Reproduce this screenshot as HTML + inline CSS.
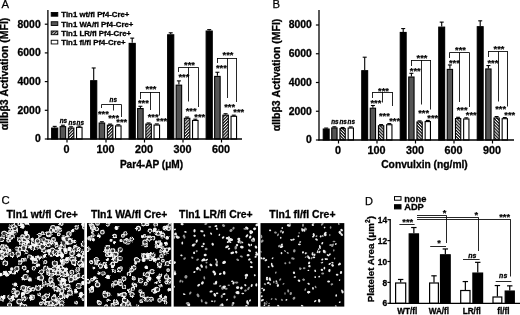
<!DOCTYPE html>
<html><head><meta charset="utf-8"><title>Figure</title><style>html,body{margin:0;padding:0;background:#fff}svg{display:block}</style></head><body>
<svg width="520" height="315" viewBox="0 0 520 315" font-family='"Liberation Sans", Arial, sans-serif'>
<defs>
<pattern id="hatch" width="2.2" height="2.2" patternUnits="userSpaceOnUse" patternTransform="rotate(-45)"><rect width="2.2" height="2.2" fill="#fff"/><rect width="2.2" height="1.25" fill="#111"/></pattern>
<pattern id="hatchB" width="2.2" height="2.2" patternUnits="userSpaceOnUse" patternTransform="rotate(45)"><rect width="2.2" height="2.2" fill="#fff"/><rect width="2.2" height="1.25" fill="#111"/></pattern>
<filter id="wob" x="-5%" y="-5%" width="110%" height="110%"><feTurbulence type="fractalNoise" baseFrequency="0.35" numOctaves="2" seed="3" result="n"/><feDisplacementMap in="SourceGraphic" in2="n" scale="2.6" xChannelSelector="R" yChannelSelector="G"/></filter>
<filter id="wob2" x="-5%" y="-5%" width="110%" height="110%"><feTurbulence type="fractalNoise" baseFrequency="0.4" numOctaves="2" seed="7" result="n"/><feDisplacementMap in="SourceGraphic" in2="n" scale="1.0" xChannelSelector="R" yChannelSelector="G"/></filter>
</defs>
<rect width="520" height="315" fill="#fff"/>
<text x="1.60" y="8.30" font-size="11.3" font-weight="normal" font-style="normal" text-anchor="start" stroke="#000" stroke-width="0.25">A</text>
<line x1="54.70" y1="127.52" x2="54.70" y2="126.37" stroke="#000" stroke-width="1.1"/>
<line x1="52.70" y1="126.37" x2="56.70" y2="126.37" stroke="#000" stroke-width="1.1"/>
<rect x="51.65" y="128.07" width="6.10" height="10.93" fill="#000" stroke="#000" stroke-width="1.1"/>
<line x1="62.90" y1="126.09" x2="62.90" y2="125.22" stroke="#000" stroke-width="1.1"/>
<line x1="60.90" y1="125.22" x2="64.90" y2="125.22" stroke="#000" stroke-width="1.1"/>
<rect x="60.15" y="126.64" width="5.50" height="12.36" fill="#555" stroke="#000" stroke-width="1.1"/>
<line x1="71.10" y1="127.52" x2="71.10" y2="126.80" stroke="#000" stroke-width="1.1"/>
<line x1="69.10" y1="126.80" x2="73.10" y2="126.80" stroke="#000" stroke-width="1.1"/>
<rect x="68.35" y="128.07" width="5.50" height="10.93" fill="url(#hatch)" stroke="#000" stroke-width="1.1"/>
<line x1="79.30" y1="126.80" x2="79.30" y2="126.09" stroke="#000" stroke-width="1.1"/>
<line x1="77.30" y1="126.09" x2="81.30" y2="126.09" stroke="#000" stroke-width="1.1"/>
<rect x="76.55" y="127.35" width="5.50" height="11.65" fill="#fff" stroke="#000" stroke-width="1.1"/>
<line x1="93.70" y1="80.16" x2="93.70" y2="67.97" stroke="#000" stroke-width="1.1"/>
<line x1="91.70" y1="67.97" x2="95.70" y2="67.97" stroke="#000" stroke-width="1.1"/>
<rect x="90.65" y="80.71" width="6.10" height="58.29" fill="#000" stroke="#000" stroke-width="1.1"/>
<line x1="101.90" y1="122.50" x2="101.90" y2="121.78" stroke="#000" stroke-width="1.1"/>
<line x1="99.90" y1="121.78" x2="103.90" y2="121.78" stroke="#000" stroke-width="1.1"/>
<rect x="99.15" y="123.05" width="5.50" height="15.95" fill="#555" stroke="#000" stroke-width="1.1"/>
<line x1="110.10" y1="124.65" x2="110.10" y2="124.08" stroke="#000" stroke-width="1.1"/>
<line x1="108.10" y1="124.08" x2="112.10" y2="124.08" stroke="#000" stroke-width="1.1"/>
<rect x="107.35" y="125.20" width="5.50" height="13.80" fill="url(#hatch)" stroke="#000" stroke-width="1.1"/>
<line x1="118.30" y1="125.37" x2="118.30" y2="124.79" stroke="#000" stroke-width="1.1"/>
<line x1="116.30" y1="124.79" x2="120.30" y2="124.79" stroke="#000" stroke-width="1.1"/>
<rect x="115.55" y="125.92" width="5.50" height="13.08" fill="#fff" stroke="#000" stroke-width="1.1"/>
<line x1="132.20" y1="42.86" x2="132.20" y2="38.12" stroke="#000" stroke-width="1.1"/>
<line x1="130.20" y1="38.12" x2="134.20" y2="38.12" stroke="#000" stroke-width="1.1"/>
<rect x="129.15" y="43.41" width="6.10" height="95.59" fill="#000" stroke="#000" stroke-width="1.1"/>
<line x1="140.40" y1="108.00" x2="140.40" y2="106.28" stroke="#000" stroke-width="1.1"/>
<line x1="138.40" y1="106.28" x2="142.40" y2="106.28" stroke="#000" stroke-width="1.1"/>
<rect x="137.65" y="108.55" width="5.50" height="30.45" fill="#555" stroke="#000" stroke-width="1.1"/>
<line x1="148.60" y1="123.50" x2="148.60" y2="122.93" stroke="#000" stroke-width="1.1"/>
<line x1="146.60" y1="122.93" x2="150.60" y2="122.93" stroke="#000" stroke-width="1.1"/>
<rect x="145.85" y="124.05" width="5.50" height="14.95" fill="url(#hatch)" stroke="#000" stroke-width="1.1"/>
<line x1="156.80" y1="124.51" x2="156.80" y2="123.93" stroke="#000" stroke-width="1.1"/>
<line x1="154.80" y1="123.93" x2="158.80" y2="123.93" stroke="#000" stroke-width="1.1"/>
<rect x="154.05" y="125.06" width="5.50" height="13.94" fill="#fff" stroke="#000" stroke-width="1.1"/>
<line x1="170.70" y1="34.25" x2="170.70" y2="32.81" stroke="#000" stroke-width="1.1"/>
<line x1="168.70" y1="32.81" x2="172.70" y2="32.81" stroke="#000" stroke-width="1.1"/>
<rect x="167.65" y="34.80" width="6.10" height="104.20" fill="#000" stroke="#000" stroke-width="1.1"/>
<line x1="178.90" y1="84.61" x2="178.90" y2="80.88" stroke="#000" stroke-width="1.1"/>
<line x1="176.90" y1="80.88" x2="180.90" y2="80.88" stroke="#000" stroke-width="1.1"/>
<rect x="176.15" y="85.16" width="5.50" height="53.84" fill="#555" stroke="#000" stroke-width="1.1"/>
<line x1="187.10" y1="117.76" x2="187.10" y2="117.04" stroke="#000" stroke-width="1.1"/>
<line x1="185.10" y1="117.04" x2="189.10" y2="117.04" stroke="#000" stroke-width="1.1"/>
<rect x="184.35" y="118.31" width="5.50" height="20.69" fill="url(#hatch)" stroke="#000" stroke-width="1.1"/>
<line x1="195.30" y1="119.91" x2="195.30" y2="119.20" stroke="#000" stroke-width="1.1"/>
<line x1="193.30" y1="119.20" x2="197.30" y2="119.20" stroke="#000" stroke-width="1.1"/>
<rect x="192.55" y="120.46" width="5.50" height="18.54" fill="#fff" stroke="#000" stroke-width="1.1"/>
<line x1="209.20" y1="30.51" x2="209.20" y2="29.65" stroke="#000" stroke-width="1.1"/>
<line x1="207.20" y1="29.65" x2="211.20" y2="29.65" stroke="#000" stroke-width="1.1"/>
<rect x="206.15" y="31.06" width="6.10" height="107.94" fill="#000" stroke="#000" stroke-width="1.1"/>
<line x1="217.40" y1="75.86" x2="217.40" y2="72.27" stroke="#000" stroke-width="1.1"/>
<line x1="215.40" y1="72.27" x2="219.40" y2="72.27" stroke="#000" stroke-width="1.1"/>
<rect x="214.65" y="76.41" width="5.50" height="62.59" fill="#555" stroke="#000" stroke-width="1.1"/>
<line x1="225.60" y1="114.61" x2="225.60" y2="113.74" stroke="#000" stroke-width="1.1"/>
<line x1="223.60" y1="113.74" x2="227.60" y2="113.74" stroke="#000" stroke-width="1.1"/>
<rect x="222.85" y="115.16" width="5.50" height="23.84" fill="url(#hatch)" stroke="#000" stroke-width="1.1"/>
<line x1="233.80" y1="115.75" x2="233.80" y2="115.18" stroke="#000" stroke-width="1.1"/>
<line x1="231.80" y1="115.18" x2="235.80" y2="115.18" stroke="#000" stroke-width="1.1"/>
<rect x="231.05" y="116.30" width="5.50" height="22.70" fill="#fff" stroke="#000" stroke-width="1.1"/>
<line x1="47.90" y1="10.00" x2="47.90" y2="139.60" stroke="#000" stroke-width="1.3"/>
<line x1="47.30" y1="139.00" x2="242.00" y2="139.00" stroke="#000" stroke-width="1.3"/>
<line x1="44.80" y1="139.00" x2="47.90" y2="139.00" stroke="#000" stroke-width="1.2"/>
<text x="40.70" y="142.40" font-size="10.4" font-weight="bold" font-style="normal" text-anchor="end"  stroke="#000" stroke-width="0.30">0</text>
<line x1="44.80" y1="110.30" x2="47.90" y2="110.30" stroke="#000" stroke-width="1.2"/>
<text x="40.70" y="113.70" font-size="10.4" font-weight="bold" font-style="normal" text-anchor="end"  stroke="#000" stroke-width="0.30">2000</text>
<line x1="44.80" y1="81.60" x2="47.90" y2="81.60" stroke="#000" stroke-width="1.2"/>
<text x="40.70" y="85.00" font-size="10.4" font-weight="bold" font-style="normal" text-anchor="end"  stroke="#000" stroke-width="0.30">4000</text>
<line x1="44.80" y1="52.90" x2="47.90" y2="52.90" stroke="#000" stroke-width="1.2"/>
<text x="40.70" y="56.30" font-size="10.4" font-weight="bold" font-style="normal" text-anchor="end"  stroke="#000" stroke-width="0.30">6000</text>
<line x1="44.80" y1="24.20" x2="47.90" y2="24.20" stroke="#000" stroke-width="1.2"/>
<text x="40.70" y="27.60" font-size="10.4" font-weight="bold" font-style="normal" text-anchor="end"  stroke="#000" stroke-width="0.30">8000</text>
<line x1="67.00" y1="139.00" x2="67.00" y2="142.50" stroke="#000" stroke-width="1.2"/>
<text x="66.60" y="153.00" font-size="10.8" font-weight="bold" font-style="normal" text-anchor="middle"  stroke="#000" stroke-width="0.30">0</text>
<line x1="106.00" y1="139.00" x2="106.00" y2="142.50" stroke="#000" stroke-width="1.2"/>
<text x="105.60" y="153.00" font-size="10.8" font-weight="bold" font-style="normal" text-anchor="middle"  stroke="#000" stroke-width="0.30">100</text>
<line x1="144.50" y1="139.00" x2="144.50" y2="142.50" stroke="#000" stroke-width="1.2"/>
<text x="144.10" y="153.00" font-size="10.8" font-weight="bold" font-style="normal" text-anchor="middle"  stroke="#000" stroke-width="0.30">200</text>
<line x1="183.00" y1="139.00" x2="183.00" y2="142.50" stroke="#000" stroke-width="1.2"/>
<text x="182.60" y="153.00" font-size="10.8" font-weight="bold" font-style="normal" text-anchor="middle"  stroke="#000" stroke-width="0.30">300</text>
<line x1="221.50" y1="139.00" x2="221.50" y2="142.50" stroke="#000" stroke-width="1.2"/>
<text x="221.10" y="153.00" font-size="10.8" font-weight="bold" font-style="normal" text-anchor="middle"  stroke="#000" stroke-width="0.30">600</text>
<text x="151.50" y="167.60" font-size="10.1" font-weight="bold" font-style="normal" text-anchor="middle"  stroke="#000" stroke-width="0.30">Par4-AP (μM)</text>
<text transform="translate(8.2,74) rotate(-90)" font-size="10.5" font-weight="bold" stroke="#000" stroke-width="0.3" text-anchor="middle">αIIbβ3 Activation (MFI)</text>
<rect x="51.20" y="12.50" width="6.60" height="3.70" fill="#000" stroke="#000" stroke-width="0.9"/>
<text x="61.20" y="17.30" font-size="7.8" font-weight="bold" font-style="normal" text-anchor="start"  stroke="#000" stroke-width="0.30">Tln1 wt/fl Pf4-Cre+</text>
<rect x="51.20" y="21.75" width="6.60" height="3.70" fill="#555" stroke="#000" stroke-width="0.9"/>
<text x="61.20" y="26.55" font-size="7.8" font-weight="bold" font-style="normal" text-anchor="start"  stroke="#000" stroke-width="0.30">Tln1 WA/fl Pf4-Cre+</text>
<rect x="51.20" y="31.00" width="6.60" height="3.70" fill="url(#hatch)" stroke="#000" stroke-width="0.9"/>
<text x="61.20" y="35.80" font-size="7.8" font-weight="bold" font-style="normal" text-anchor="start"  stroke="#000" stroke-width="0.30">Tln1 LR/fl Pf4-Cre+</text>
<rect x="51.20" y="40.25" width="6.60" height="3.70" fill="#fff" stroke="#000" stroke-width="0.9"/>
<text x="61.20" y="45.05" font-size="7.8" font-weight="bold" font-style="normal" text-anchor="start"  stroke="#000" stroke-width="0.30">Tln1 fl/fl Pf4-Cre+</text>
<text x="63.40" y="122.50" font-size="6.3" font-weight="bold" font-style="italic" text-anchor="middle"  stroke="#000" stroke-width="0.30">ns</text>
<text x="72.30" y="125.00" font-size="6.3" font-weight="bold" font-style="italic" text-anchor="middle"  stroke="#000" stroke-width="0.30">ns</text>
<text x="80.30" y="125.00" font-size="6.3" font-weight="bold" font-style="italic" text-anchor="middle"  stroke="#000" stroke-width="0.30">ns</text>
<line x1="101.50" y1="104.50" x2="121.40" y2="104.50" stroke="#000" stroke-width="0.85"/>
<line x1="101.50" y1="104.50" x2="101.50" y2="108.00" stroke="#000" stroke-width="0.85"/>
<line x1="113.50" y1="104.50" x2="113.50" y2="110.50" stroke="#000" stroke-width="0.85"/>
<line x1="121.50" y1="104.50" x2="121.50" y2="117.00" stroke="#000" stroke-width="0.85"/>
<text x="113.25" y="101.90" font-size="6.3" font-weight="bold" font-style="italic" text-anchor="middle"  stroke="#000" stroke-width="0.30">ns</text>
<text x="103.40" y="116.61" font-size="9.3" font-weight="bold" font-style="normal" text-anchor="middle" stroke="#000" stroke-width="0.2">***</text>
<text x="113.60" y="121.31" font-size="9.3" font-weight="bold" font-style="normal" text-anchor="middle" stroke="#000" stroke-width="0.2">***</text>
<text x="121.80" y="125.31" font-size="9.3" font-weight="bold" font-style="normal" text-anchor="middle" stroke="#000" stroke-width="0.2">***</text>
<line x1="140.00" y1="92.50" x2="159.90" y2="92.50" stroke="#000" stroke-width="0.85"/>
<line x1="140.50" y1="92.00" x2="140.50" y2="99.00" stroke="#000" stroke-width="0.85"/>
<line x1="150.50" y1="92.00" x2="150.50" y2="110.00" stroke="#000" stroke-width="0.85"/>
<line x1="159.50" y1="92.00" x2="159.50" y2="115.50" stroke="#000" stroke-width="0.85"/>
<text x="150.95" y="92.31" font-size="9.3" font-weight="bold" font-style="normal" text-anchor="middle" stroke="#000" stroke-width="0.2">***</text>
<text x="143.40" y="106.41" font-size="9.3" font-weight="bold" font-style="normal" text-anchor="middle" stroke="#000" stroke-width="0.2">***</text>
<text x="153.10" y="119.61" font-size="9.3" font-weight="bold" font-style="normal" text-anchor="middle" stroke="#000" stroke-width="0.2">***</text>
<text x="161.80" y="123.91" font-size="9.3" font-weight="bold" font-style="normal" text-anchor="middle" stroke="#000" stroke-width="0.2">***</text>
<line x1="178.50" y1="67.50" x2="198.40" y2="67.50" stroke="#000" stroke-width="0.85"/>
<line x1="178.50" y1="67.30" x2="178.50" y2="72.00" stroke="#000" stroke-width="0.85"/>
<line x1="188.50" y1="67.30" x2="188.50" y2="101.50" stroke="#000" stroke-width="0.85"/>
<line x1="198.50" y1="67.30" x2="198.50" y2="107.00" stroke="#000" stroke-width="0.85"/>
<text x="189.45" y="67.81" font-size="9.3" font-weight="bold" font-style="normal" text-anchor="middle" stroke="#000" stroke-width="0.2">***</text>
<text x="183.90" y="79.71" font-size="9.3" font-weight="bold" font-style="normal" text-anchor="middle" stroke="#000" stroke-width="0.2">***</text>
<text x="191.10" y="114.11" font-size="9.3" font-weight="bold" font-style="normal" text-anchor="middle" stroke="#000" stroke-width="0.2">***</text>
<text x="199.80" y="119.61" font-size="9.3" font-weight="bold" font-style="normal" text-anchor="middle" stroke="#000" stroke-width="0.2">***</text>
<line x1="217.00" y1="58.50" x2="236.90" y2="58.50" stroke="#000" stroke-width="0.85"/>
<line x1="217.50" y1="58.00" x2="217.50" y2="63.00" stroke="#000" stroke-width="0.85"/>
<line x1="227.50" y1="58.00" x2="227.50" y2="98.00" stroke="#000" stroke-width="0.85"/>
<line x1="236.50" y1="58.00" x2="236.50" y2="102.00" stroke="#000" stroke-width="0.85"/>
<text x="227.95" y="58.12" font-size="9.3" font-weight="bold" font-style="normal" text-anchor="middle" stroke="#000" stroke-width="0.2">***</text>
<text x="221.40" y="70.61" font-size="9.3" font-weight="bold" font-style="normal" text-anchor="middle" stroke="#000" stroke-width="0.2">***</text>
<text x="229.60" y="109.61" font-size="9.3" font-weight="bold" font-style="normal" text-anchor="middle" stroke="#000" stroke-width="0.2">***</text>
<text x="238.80" y="115.11" font-size="9.3" font-weight="bold" font-style="normal" text-anchor="middle" stroke="#000" stroke-width="0.2">***</text>
<text x="272.60" y="8.30" font-size="11.3" font-weight="normal" font-style="normal" text-anchor="start" stroke="#000" stroke-width="0.25">B</text>
<line x1="326.20" y1="128.50" x2="326.20" y2="128.07" stroke="#000" stroke-width="1.1"/>
<line x1="324.20" y1="128.07" x2="328.20" y2="128.07" stroke="#000" stroke-width="1.1"/>
<rect x="323.25" y="129.05" width="5.90" height="10.95" fill="#000" stroke="#000" stroke-width="1.1"/>
<line x1="334.40" y1="127.35" x2="334.40" y2="126.78" stroke="#000" stroke-width="1.1"/>
<line x1="332.40" y1="126.78" x2="336.40" y2="126.78" stroke="#000" stroke-width="1.1"/>
<rect x="331.75" y="127.90" width="5.30" height="12.10" fill="#555" stroke="#000" stroke-width="1.1"/>
<line x1="342.60" y1="128.07" x2="342.60" y2="127.49" stroke="#000" stroke-width="1.1"/>
<line x1="340.60" y1="127.49" x2="344.60" y2="127.49" stroke="#000" stroke-width="1.1"/>
<rect x="339.95" y="128.62" width="5.30" height="11.38" fill="url(#hatchB)" stroke="#000" stroke-width="1.1"/>
<line x1="350.80" y1="127.49" x2="350.80" y2="126.92" stroke="#000" stroke-width="1.1"/>
<line x1="348.80" y1="126.92" x2="352.80" y2="126.92" stroke="#000" stroke-width="1.1"/>
<rect x="348.15" y="128.04" width="5.30" height="11.96" fill="#fff" stroke="#000" stroke-width="1.1"/>
<line x1="364.70" y1="70.14" x2="364.70" y2="57.20" stroke="#000" stroke-width="1.1"/>
<line x1="362.70" y1="57.20" x2="366.70" y2="57.20" stroke="#000" stroke-width="1.1"/>
<rect x="361.75" y="70.69" width="5.90" height="69.31" fill="#000" stroke="#000" stroke-width="1.1"/>
<line x1="372.90" y1="107.66" x2="372.90" y2="105.50" stroke="#000" stroke-width="1.1"/>
<line x1="370.90" y1="105.50" x2="374.90" y2="105.50" stroke="#000" stroke-width="1.1"/>
<rect x="370.25" y="108.21" width="5.30" height="31.79" fill="#555" stroke="#000" stroke-width="1.1"/>
<line x1="381.10" y1="125.19" x2="381.10" y2="124.62" stroke="#000" stroke-width="1.1"/>
<line x1="379.10" y1="124.62" x2="383.10" y2="124.62" stroke="#000" stroke-width="1.1"/>
<rect x="378.45" y="125.74" width="5.30" height="14.26" fill="url(#hatchB)" stroke="#000" stroke-width="1.1"/>
<line x1="389.30" y1="124.19" x2="389.30" y2="123.61" stroke="#000" stroke-width="1.1"/>
<line x1="387.30" y1="123.61" x2="391.30" y2="123.61" stroke="#000" stroke-width="1.1"/>
<rect x="386.65" y="124.74" width="5.30" height="15.26" fill="#fff" stroke="#000" stroke-width="1.1"/>
<line x1="403.20" y1="31.90" x2="403.20" y2="28.59" stroke="#000" stroke-width="1.1"/>
<line x1="401.20" y1="28.59" x2="405.20" y2="28.59" stroke="#000" stroke-width="1.1"/>
<rect x="400.25" y="32.45" width="5.90" height="107.55" fill="#000" stroke="#000" stroke-width="1.1"/>
<line x1="411.40" y1="76.46" x2="411.40" y2="73.30" stroke="#000" stroke-width="1.1"/>
<line x1="409.40" y1="73.30" x2="413.40" y2="73.30" stroke="#000" stroke-width="1.1"/>
<rect x="408.75" y="77.01" width="5.30" height="62.99" fill="#555" stroke="#000" stroke-width="1.1"/>
<line x1="419.60" y1="121.46" x2="419.60" y2="120.88" stroke="#000" stroke-width="1.1"/>
<line x1="417.60" y1="120.88" x2="421.60" y2="120.88" stroke="#000" stroke-width="1.1"/>
<rect x="416.95" y="122.01" width="5.30" height="17.99" fill="url(#hatchB)" stroke="#000" stroke-width="1.1"/>
<line x1="427.80" y1="121.03" x2="427.80" y2="120.45" stroke="#000" stroke-width="1.1"/>
<line x1="425.80" y1="120.45" x2="429.80" y2="120.45" stroke="#000" stroke-width="1.1"/>
<rect x="425.15" y="121.58" width="5.30" height="18.42" fill="#fff" stroke="#000" stroke-width="1.1"/>
<line x1="441.70" y1="26.58" x2="441.70" y2="22.12" stroke="#000" stroke-width="1.1"/>
<line x1="439.70" y1="22.12" x2="443.70" y2="22.12" stroke="#000" stroke-width="1.1"/>
<rect x="438.75" y="27.13" width="5.90" height="112.87" fill="#000" stroke="#000" stroke-width="1.1"/>
<line x1="449.90" y1="68.84" x2="449.90" y2="64.96" stroke="#000" stroke-width="1.1"/>
<line x1="447.90" y1="64.96" x2="451.90" y2="64.96" stroke="#000" stroke-width="1.1"/>
<rect x="447.25" y="69.39" width="5.30" height="70.61" fill="#555" stroke="#000" stroke-width="1.1"/>
<line x1="458.10" y1="118.01" x2="458.10" y2="117.29" stroke="#000" stroke-width="1.1"/>
<line x1="456.10" y1="117.29" x2="460.10" y2="117.29" stroke="#000" stroke-width="1.1"/>
<rect x="455.45" y="118.56" width="5.30" height="21.44" fill="url(#hatchB)" stroke="#000" stroke-width="1.1"/>
<line x1="466.30" y1="118.44" x2="466.30" y2="117.86" stroke="#000" stroke-width="1.1"/>
<line x1="464.30" y1="117.86" x2="468.30" y2="117.86" stroke="#000" stroke-width="1.1"/>
<rect x="463.65" y="118.99" width="5.30" height="21.01" fill="#fff" stroke="#000" stroke-width="1.1"/>
<line x1="480.20" y1="26.15" x2="480.20" y2="20.83" stroke="#000" stroke-width="1.1"/>
<line x1="478.20" y1="20.83" x2="482.20" y2="20.83" stroke="#000" stroke-width="1.1"/>
<rect x="477.25" y="26.70" width="5.90" height="113.30" fill="#000" stroke="#000" stroke-width="1.1"/>
<line x1="488.40" y1="68.41" x2="488.40" y2="65.54" stroke="#000" stroke-width="1.1"/>
<line x1="486.40" y1="65.54" x2="490.40" y2="65.54" stroke="#000" stroke-width="1.1"/>
<rect x="485.75" y="68.96" width="5.30" height="71.04" fill="#555" stroke="#000" stroke-width="1.1"/>
<line x1="496.60" y1="117.43" x2="496.60" y2="116.57" stroke="#000" stroke-width="1.1"/>
<line x1="494.60" y1="116.57" x2="498.60" y2="116.57" stroke="#000" stroke-width="1.1"/>
<rect x="493.95" y="117.98" width="5.30" height="22.02" fill="url(#hatchB)" stroke="#000" stroke-width="1.1"/>
<line x1="504.80" y1="118.15" x2="504.80" y2="117.58" stroke="#000" stroke-width="1.1"/>
<line x1="502.80" y1="117.58" x2="506.80" y2="117.58" stroke="#000" stroke-width="1.1"/>
<rect x="502.15" y="118.70" width="5.30" height="21.30" fill="#fff" stroke="#000" stroke-width="1.1"/>
<line x1="319.00" y1="10.00" x2="319.00" y2="140.60" stroke="#000" stroke-width="1.3"/>
<line x1="318.40" y1="140.00" x2="514.00" y2="140.00" stroke="#000" stroke-width="1.3"/>
<line x1="315.90" y1="140.00" x2="319.00" y2="140.00" stroke="#000" stroke-width="1.2"/>
<text x="311.80" y="143.40" font-size="10.4" font-weight="bold" font-style="normal" text-anchor="end"  stroke="#000" stroke-width="0.30">0</text>
<line x1="315.90" y1="111.25" x2="319.00" y2="111.25" stroke="#000" stroke-width="1.2"/>
<text x="311.80" y="114.65" font-size="10.4" font-weight="bold" font-style="normal" text-anchor="end"  stroke="#000" stroke-width="0.30">2000</text>
<line x1="315.90" y1="82.50" x2="319.00" y2="82.50" stroke="#000" stroke-width="1.2"/>
<text x="311.80" y="85.90" font-size="10.4" font-weight="bold" font-style="normal" text-anchor="end"  stroke="#000" stroke-width="0.30">4000</text>
<line x1="315.90" y1="53.75" x2="319.00" y2="53.75" stroke="#000" stroke-width="1.2"/>
<text x="311.80" y="57.15" font-size="10.4" font-weight="bold" font-style="normal" text-anchor="end"  stroke="#000" stroke-width="0.30">6000</text>
<line x1="315.90" y1="25.00" x2="319.00" y2="25.00" stroke="#000" stroke-width="1.2"/>
<text x="311.80" y="28.40" font-size="10.4" font-weight="bold" font-style="normal" text-anchor="end"  stroke="#000" stroke-width="0.30">8000</text>
<line x1="338.50" y1="140.00" x2="338.50" y2="143.50" stroke="#000" stroke-width="1.2"/>
<text x="338.10" y="154.00" font-size="10.8" font-weight="bold" font-style="normal" text-anchor="middle"  stroke="#000" stroke-width="0.30">0</text>
<line x1="377.00" y1="140.00" x2="377.00" y2="143.50" stroke="#000" stroke-width="1.2"/>
<text x="376.60" y="154.00" font-size="10.8" font-weight="bold" font-style="normal" text-anchor="middle"  stroke="#000" stroke-width="0.30">100</text>
<line x1="415.50" y1="140.00" x2="415.50" y2="143.50" stroke="#000" stroke-width="1.2"/>
<text x="415.10" y="154.00" font-size="10.8" font-weight="bold" font-style="normal" text-anchor="middle"  stroke="#000" stroke-width="0.30">300</text>
<line x1="454.00" y1="140.00" x2="454.00" y2="143.50" stroke="#000" stroke-width="1.2"/>
<text x="453.60" y="154.00" font-size="10.8" font-weight="bold" font-style="normal" text-anchor="middle"  stroke="#000" stroke-width="0.30">600</text>
<line x1="492.50" y1="140.00" x2="492.50" y2="143.50" stroke="#000" stroke-width="1.2"/>
<text x="492.10" y="154.00" font-size="10.8" font-weight="bold" font-style="normal" text-anchor="middle"  stroke="#000" stroke-width="0.30">900</text>
<text x="424.50" y="167.60" font-size="10.25" font-weight="bold" font-style="normal" text-anchor="middle"  stroke="#000" stroke-width="0.30">Convulxin (ng/ml)</text>
<text transform="translate(280.3,75) rotate(-90)" font-size="10.5" font-weight="bold" stroke="#000" stroke-width="0.3" text-anchor="middle">αIIbβ3 Activation (MFI)</text>
<text x="334.90" y="124.40" font-size="6.3" font-weight="bold" font-style="italic" text-anchor="middle"  stroke="#000" stroke-width="0.30">ns</text>
<text x="343.10" y="124.40" font-size="6.3" font-weight="bold" font-style="italic" text-anchor="middle"  stroke="#000" stroke-width="0.30">ns</text>
<text x="351.30" y="124.40" font-size="6.3" font-weight="bold" font-style="italic" text-anchor="middle"  stroke="#000" stroke-width="0.30">ns</text>
<line x1="372.50" y1="92.50" x2="392.40" y2="92.50" stroke="#000" stroke-width="0.85"/>
<line x1="372.50" y1="92.00" x2="372.50" y2="98.00" stroke="#000" stroke-width="0.85"/>
<line x1="382.50" y1="92.00" x2="382.50" y2="102.50" stroke="#000" stroke-width="0.85"/>
<line x1="392.50" y1="92.00" x2="392.50" y2="106.00" stroke="#000" stroke-width="0.85"/>
<text x="383.45" y="93.61" font-size="9.3" font-weight="bold" font-style="normal" text-anchor="middle" stroke="#000" stroke-width="0.2">***</text>
<text x="375.90" y="106.11" font-size="9.3" font-weight="bold" font-style="normal" text-anchor="middle" stroke="#000" stroke-width="0.2">***</text>
<text x="384.40" y="119.11" font-size="9.3" font-weight="bold" font-style="normal" text-anchor="middle" stroke="#000" stroke-width="0.2">***</text>
<text x="394.60" y="123.61" font-size="9.3" font-weight="bold" font-style="normal" text-anchor="middle" stroke="#000" stroke-width="0.2">***</text>
<line x1="411.00" y1="60.50" x2="430.90" y2="60.50" stroke="#000" stroke-width="0.85"/>
<line x1="411.50" y1="60.00" x2="411.50" y2="66.00" stroke="#000" stroke-width="0.85"/>
<line x1="421.50" y1="60.00" x2="421.50" y2="104.50" stroke="#000" stroke-width="0.85"/>
<line x1="430.50" y1="60.00" x2="430.50" y2="109.50" stroke="#000" stroke-width="0.85"/>
<text x="421.95" y="60.62" font-size="9.3" font-weight="bold" font-style="normal" text-anchor="middle" stroke="#000" stroke-width="0.2">***</text>
<text x="415.20" y="73.91" font-size="9.3" font-weight="bold" font-style="normal" text-anchor="middle" stroke="#000" stroke-width="0.2">***</text>
<text x="423.60" y="115.61" font-size="9.3" font-weight="bold" font-style="normal" text-anchor="middle" stroke="#000" stroke-width="0.2">***</text>
<text x="432.80" y="120.61" font-size="9.3" font-weight="bold" font-style="normal" text-anchor="middle" stroke="#000" stroke-width="0.2">***</text>
<line x1="449.50" y1="52.50" x2="469.40" y2="52.50" stroke="#000" stroke-width="0.85"/>
<line x1="449.50" y1="52.50" x2="449.50" y2="58.00" stroke="#000" stroke-width="0.85"/>
<line x1="459.50" y1="52.50" x2="459.50" y2="102.00" stroke="#000" stroke-width="0.85"/>
<line x1="469.50" y1="52.50" x2="469.50" y2="107.00" stroke="#000" stroke-width="0.85"/>
<text x="460.45" y="53.12" font-size="9.3" font-weight="bold" font-style="normal" text-anchor="middle" stroke="#000" stroke-width="0.2">***</text>
<text x="454.40" y="65.61" font-size="9.3" font-weight="bold" font-style="normal" text-anchor="middle" stroke="#000" stroke-width="0.2">***</text>
<text x="462.10" y="112.61" font-size="9.3" font-weight="bold" font-style="normal" text-anchor="middle" stroke="#000" stroke-width="0.2">***</text>
<text x="471.30" y="118.11" font-size="9.3" font-weight="bold" font-style="normal" text-anchor="middle" stroke="#000" stroke-width="0.2">***</text>
<line x1="488.00" y1="51.50" x2="507.90" y2="51.50" stroke="#000" stroke-width="0.85"/>
<line x1="488.50" y1="51.50" x2="488.50" y2="57.00" stroke="#000" stroke-width="0.85"/>
<line x1="498.50" y1="51.50" x2="498.50" y2="101.50" stroke="#000" stroke-width="0.85"/>
<line x1="507.50" y1="51.50" x2="507.50" y2="106.50" stroke="#000" stroke-width="0.85"/>
<text x="498.95" y="52.12" font-size="9.3" font-weight="bold" font-style="normal" text-anchor="middle" stroke="#000" stroke-width="0.2">***</text>
<text x="492.90" y="65.61" font-size="9.3" font-weight="bold" font-style="normal" text-anchor="middle" stroke="#000" stroke-width="0.2">***</text>
<text x="500.60" y="112.11" font-size="9.3" font-weight="bold" font-style="normal" text-anchor="middle" stroke="#000" stroke-width="0.2">***</text>
<text x="509.80" y="117.61" font-size="9.3" font-weight="bold" font-style="normal" text-anchor="middle" stroke="#000" stroke-width="0.2">***</text>
<text x="1.60" y="204.20" font-size="11.3" font-weight="normal" font-style="normal" text-anchor="start" stroke="#000" stroke-width="0.25">C</text>
<text x="42.15" y="217.80" font-size="10.4" font-weight="bold" font-style="normal" text-anchor="middle"  stroke="#000" stroke-width="0.30">Tln1 wt/fl Cre+</text>
<clipPath id="cp0"><rect x="0" y="223.1" width="84.3" height="83.50000000000003"/></clipPath>
<rect x="0" y="223.1" width="84.3" height="83.50000000000003" fill="#000"/>
<g clip-path="url(#cp0)"><g filter="url(#wob)" fill="#333" stroke="#f4f4f4" stroke-width="1.12">
<circle cx="52.8" cy="303.5" r="2.45"/>
<circle cx="76.0" cy="291.4" r="1.45" fill="#fff"/>
<circle cx="53.8" cy="298.4" r="1.96"/>
<circle cx="42.7" cy="247.3" r="1.93"/>
<circle cx="72.0" cy="253.4" r="2.21"/>
<circle cx="75.1" cy="277.5" r="2.32"/>
<circle cx="41.6" cy="271.8" r="2.11"/>
<circle cx="10.2" cy="227.3" r="1.56"/>
<circle cx="47.9" cy="251.0" r="1.01" fill="#fff"/>
<circle cx="44.3" cy="283.2" r="1.77"/>
<circle cx="55.6" cy="262.9" r="1.50" fill="#fff"/>
<circle cx="67.3" cy="296.0" r="1.08" fill="#fff"/>
<circle cx="33.9" cy="268.2" r="1.71"/>
<circle cx="16.4" cy="271.5" r="1.03" fill="#fff"/>
<circle cx="82.7" cy="256.6" r="1.51" fill="#fff"/>
<circle cx="84.1" cy="255.7" r="1.63"/>
<circle cx="19.6" cy="223.9" r="1.66"/>
<circle cx="29.7" cy="279.4" r="1.52" fill="#fff"/>
<circle cx="29.7" cy="290.0" r="1.66" fill="#fff"/>
<circle cx="62.0" cy="281.8" r="1.51"/>
<circle cx="37.7" cy="240.9" r="2.31"/>
<circle cx="48.8" cy="241.7" r="1.85"/>
<circle cx="72.6" cy="230.4" r="1.28" fill="#fff"/>
<circle cx="13.0" cy="232.0" r="1.44" fill="#fff"/>
<circle cx="47.8" cy="303.8" r="2.21"/>
<circle cx="32.0" cy="297.3" r="2.30"/>
<circle cx="65.7" cy="252.2" r="1.32"/>
<circle cx="71.9" cy="272.2" r="1.93"/>
<circle cx="64.7" cy="280.6" r="1.40" fill="#fff"/>
<circle cx="83.2" cy="224.0" r="1.65" fill="#fff"/>
<circle cx="58.7" cy="301.1" r="1.41"/>
<circle cx="60.1" cy="229.9" r="1.54"/>
<circle cx="1.3" cy="299.0" r="2.19"/>
<circle cx="32.2" cy="239.3" r="1.13" fill="#fff"/>
<circle cx="21.9" cy="225.4" r="1.63" fill="#fff"/>
<circle cx="55.8" cy="230.9" r="1.50"/>
<circle cx="60.8" cy="247.2" r="1.69"/>
<circle cx="52.1" cy="243.7" r="0.99" fill="#fff"/>
<circle cx="70.0" cy="292.8" r="2.44"/>
<circle cx="58.3" cy="272.8" r="2.13"/>
<circle cx="52.9" cy="303.7" r="1.63"/>
<circle cx="46.6" cy="296.0" r="2.12"/>
<circle cx="15.4" cy="230.7" r="2.08"/>
<circle cx="83.3" cy="265.4" r="1.72" fill="#fff"/>
<circle cx="63.0" cy="280.0" r="1.72" fill="#fff"/>
<circle cx="24.2" cy="239.6" r="2.06"/>
<circle cx="73.7" cy="262.6" r="2.07"/>
<circle cx="2.1" cy="256.6" r="2.07"/>
<circle cx="61.8" cy="303.0" r="2.30"/>
<circle cx="20.3" cy="262.6" r="1.67"/>
<circle cx="1.7" cy="258.8" r="0.93" fill="#fff"/>
<circle cx="56.5" cy="245.4" r="1.50"/>
<circle cx="78.8" cy="285.9" r="2.45"/>
<circle cx="32.6" cy="247.4" r="2.06"/>
<circle cx="59.8" cy="279.3" r="1.83"/>
<circle cx="41.7" cy="286.6" r="1.31"/>
<circle cx="44.0" cy="256.4" r="1.05" fill="#fff"/>
<circle cx="62.9" cy="271.1" r="2.42"/>
<circle cx="54.4" cy="301.1" r="1.49"/>
<circle cx="37.3" cy="265.5" r="1.11" fill="#fff"/>
<circle cx="39.7" cy="234.9" r="1.51"/>
<circle cx="24.0" cy="298.8" r="1.97"/>
<circle cx="52.5" cy="269.9" r="1.64"/>
<circle cx="61.4" cy="305.9" r="1.63"/>
<circle cx="10.5" cy="233.0" r="1.08" fill="#fff"/>
<circle cx="60.0" cy="269.1" r="2.07"/>
<circle cx="48.1" cy="285.0" r="1.34"/>
<circle cx="61.0" cy="294.6" r="1.42" fill="#fff"/>
<circle cx="63.3" cy="238.3" r="1.55" fill="#fff"/>
<circle cx="21.2" cy="242.5" r="1.78"/>
<circle cx="8.6" cy="238.6" r="1.30"/>
<circle cx="13.6" cy="298.8" r="1.17" fill="#fff"/>
<circle cx="53.1" cy="228.0" r="2.50"/>
<circle cx="62.8" cy="296.3" r="2.37"/>
<circle cx="49.1" cy="250.7" r="1.20" fill="#fff"/>
<circle cx="62.3" cy="269.7" r="2.34"/>
<circle cx="39.2" cy="294.3" r="1.34"/>
<circle cx="60.3" cy="267.3" r="2.23"/>
<circle cx="13.9" cy="289.9" r="1.50"/>
<circle cx="31.0" cy="297.3" r="1.32" fill="#fff"/>
<circle cx="62.0" cy="260.7" r="1.72" fill="#fff"/>
<circle cx="37.4" cy="258.6" r="2.11"/>
<circle cx="5.6" cy="254.1" r="2.46"/>
<circle cx="43.9" cy="250.6" r="2.03"/>
<circle cx="23.4" cy="278.4" r="1.44" fill="#fff"/>
<circle cx="48.2" cy="245.0" r="1.74"/>
<circle cx="83.7" cy="243.8" r="2.37"/>
<circle cx="54.5" cy="295.5" r="1.06" fill="#fff"/>
<circle cx="14.9" cy="228.3" r="2.40"/>
<circle cx="52.9" cy="240.4" r="1.50"/>
<circle cx="67.8" cy="243.1" r="1.42" fill="#fff"/>
<circle cx="74.3" cy="250.2" r="1.68"/>
<circle cx="37.9" cy="256.9" r="1.07" fill="#fff"/>
<circle cx="40.9" cy="303.5" r="1.36"/>
<circle cx="45.8" cy="268.3" r="2.16"/>
<circle cx="74.6" cy="241.5" r="1.17" fill="#fff"/>
<circle cx="44.6" cy="242.9" r="1.41" fill="#fff"/>
<circle cx="24.6" cy="245.7" r="2.46"/>
<circle cx="38.7" cy="265.1" r="1.00" fill="#fff"/>
<circle cx="1.7" cy="239.2" r="2.25"/>
<circle cx="66.8" cy="238.6" r="2.22"/>
<circle cx="25.7" cy="243.6" r="1.34"/>
<circle cx="65.7" cy="272.8" r="1.88"/>
<circle cx="11.8" cy="269.0" r="1.17" fill="#fff"/>
<circle cx="74.3" cy="258.5" r="1.72"/>
<circle cx="15.3" cy="284.5" r="1.47" fill="#fff"/>
<circle cx="38.6" cy="278.2" r="1.33"/>
<circle cx="21.5" cy="306.4" r="1.56" fill="#fff"/>
<circle cx="2.7" cy="246.8" r="2.07"/>
<circle cx="12.1" cy="255.0" r="1.21" fill="#fff"/>
<circle cx="26.0" cy="232.7" r="1.53" fill="#fff"/>
<circle cx="42.3" cy="246.8" r="2.49"/>
<circle cx="23.1" cy="293.9" r="1.70" fill="#fff"/>
<circle cx="27.7" cy="242.0" r="1.65" fill="#fff"/>
<circle cx="49.1" cy="273.3" r="2.22"/>
<circle cx="43.8" cy="239.8" r="1.99"/>
<circle cx="63.1" cy="247.0" r="2.18"/>
<circle cx="27.1" cy="291.2" r="2.22"/>
<circle cx="75.1" cy="246.8" r="1.37"/>
<circle cx="58.0" cy="227.9" r="1.42" fill="#fff"/>
<circle cx="78.9" cy="255.2" r="1.39" fill="#fff"/>
<circle cx="83.8" cy="277.0" r="1.62"/>
<circle cx="32.9" cy="289.3" r="1.68"/>
<circle cx="82.4" cy="252.3" r="1.36"/>
<circle cx="12.9" cy="297.2" r="1.52" fill="#fff"/>
<circle cx="68.3" cy="286.0" r="1.76"/>
<circle cx="9.6" cy="305.0" r="2.04"/>
<circle cx="83.8" cy="259.8" r="2.49"/>
<circle cx="26.3" cy="252.0" r="1.53"/>
<circle cx="0.8" cy="274.6" r="1.26" fill="#fff"/>
<circle cx="70.0" cy="240.2" r="1.59" fill="#fff"/>
<circle cx="25.0" cy="306.4" r="1.94"/>
<circle cx="4.3" cy="249.8" r="2.48"/>
<circle cx="4.8" cy="232.5" r="1.09" fill="#fff"/>
<circle cx="24.6" cy="259.5" r="1.50"/>
<circle cx="56.3" cy="302.2" r="2.21"/>
<circle cx="76.1" cy="249.0" r="2.40"/>
<circle cx="35.6" cy="244.9" r="1.71" fill="#fff"/>
<circle cx="83.3" cy="283.0" r="1.67" fill="#fff"/>
<circle cx="5.3" cy="273.0" r="1.71" fill="#fff"/>
<circle cx="61.2" cy="223.8" r="1.74"/>
<circle cx="66.3" cy="260.9" r="1.19" fill="#fff"/>
<circle cx="71.9" cy="259.0" r="2.16"/>
<circle cx="42.3" cy="256.7" r="1.35"/>
<circle cx="23.5" cy="248.2" r="2.46"/>
<circle cx="68.9" cy="233.9" r="2.20"/>
<circle cx="6.8" cy="274.6" r="1.53" fill="#fff"/>
<circle cx="66.5" cy="261.2" r="1.80"/>
<circle cx="18.2" cy="254.1" r="2.24"/>
<circle cx="17.1" cy="293.1" r="2.17"/>
<circle cx="8.3" cy="240.6" r="1.54"/>
<circle cx="24.1" cy="268.1" r="1.92"/>
<circle cx="61.0" cy="253.6" r="1.31" fill="#fff"/>
<circle cx="63.9" cy="283.8" r="1.78"/>
<circle cx="71.9" cy="277.5" r="1.98"/>
<circle cx="83.5" cy="297.0" r="2.46"/>
<circle cx="33.5" cy="259.8" r="1.60" fill="#fff"/>
<circle cx="16.8" cy="268.7" r="2.16"/>
<circle cx="28.3" cy="223.6" r="0.92" fill="#fff"/>
<circle cx="63.0" cy="282.9" r="1.53"/>
<circle cx="45.3" cy="255.3" r="1.08" fill="#fff"/>
<circle cx="44.0" cy="297.8" r="2.11"/>
<circle cx="42.5" cy="233.3" r="1.45"/>
<circle cx="4.5" cy="246.0" r="1.31"/>
<circle cx="25.6" cy="289.0" r="2.48"/>
<circle cx="23.1" cy="296.4" r="1.65"/>
<circle cx="62.9" cy="263.6" r="1.47"/>
<circle cx="32.0" cy="258.0" r="1.74" fill="#fff"/>
<circle cx="1.3" cy="251.5" r="1.15" fill="#fff"/>
<circle cx="24.6" cy="289.5" r="1.18" fill="#fff"/>
<circle cx="7.9" cy="234.5" r="1.63" fill="#fff"/>
<circle cx="27.0" cy="236.7" r="2.38"/>
<circle cx="10.1" cy="231.3" r="1.35"/>
<circle cx="25.5" cy="276.9" r="2.42"/>
<circle cx="13.3" cy="226.0" r="1.77"/>
<circle cx="80.3" cy="295.6" r="1.68" fill="#fff"/>
<circle cx="54.0" cy="297.9" r="2.08"/>
<circle cx="69.6" cy="289.4" r="1.47"/>
<circle cx="9.7" cy="297.2" r="1.93"/>
<circle cx="27.6" cy="271.3" r="0.97" fill="#fff"/>
<circle cx="63.6" cy="295.8" r="1.36"/>
<circle cx="53.8" cy="306.2" r="1.85"/>
<circle cx="56.3" cy="288.7" r="2.33"/>
<circle cx="38.0" cy="287.9" r="2.35"/>
<circle cx="53.8" cy="272.4" r="2.08"/>
<circle cx="33.4" cy="243.1" r="1.96"/>
<circle cx="58.8" cy="234.3" r="1.39"/>
<circle cx="50.9" cy="303.0" r="1.99"/>
<circle cx="22.4" cy="306.0" r="2.08"/>
<circle cx="67.0" cy="258.9" r="1.34" fill="#fff"/>
<circle cx="56.2" cy="243.3" r="1.19" fill="#fff"/>
<circle cx="69.6" cy="249.1" r="1.69" fill="#fff"/>
<circle cx="35.0" cy="261.3" r="2.15"/>
<circle cx="54.8" cy="263.3" r="2.50"/>
<circle cx="22.4" cy="236.5" r="1.62"/>
<circle cx="4.1" cy="233.6" r="2.41"/>
<circle cx="65.5" cy="250.2" r="1.61" fill="#fff"/>
<circle cx="61.8" cy="291.0" r="1.96"/>
<circle cx="51.6" cy="230.2" r="2.01"/>
<circle cx="0.3" cy="255.6" r="1.83"/>
<circle cx="46.7" cy="241.5" r="1.91"/>
<circle cx="4.5" cy="264.7" r="1.02" fill="#fff"/>
<circle cx="8.4" cy="235.4" r="1.88"/>
<circle cx="80.5" cy="263.4" r="2.34"/>
<circle cx="70.1" cy="241.6" r="2.42"/>
<circle cx="22.8" cy="259.7" r="1.50"/>
<circle cx="80.7" cy="265.8" r="1.36"/>
<circle cx="49.0" cy="270.7" r="2.33"/>
<circle cx="9.9" cy="236.5" r="1.31"/>
<circle cx="66.3" cy="269.1" r="1.11" fill="#fff"/>
<circle cx="78.8" cy="249.0" r="1.64"/>
<circle cx="77.7" cy="269.5" r="1.91"/>
<circle cx="48.7" cy="234.3" r="2.43"/>
<circle cx="81.1" cy="293.6" r="1.31" fill="#fff"/>
<circle cx="46.5" cy="244.1" r="0.94" fill="#fff"/>
<circle cx="83.9" cy="227.5" r="1.32"/>
<circle cx="56.9" cy="254.9" r="1.63" fill="#fff"/>
<circle cx="76.5" cy="227.6" r="1.69"/>
<circle cx="11.2" cy="299.8" r="1.43"/>
<circle cx="77.1" cy="276.4" r="1.95"/>
<circle cx="45.3" cy="262.0" r="1.53"/>
<circle cx="5.3" cy="263.2" r="2.30"/>
<circle cx="16.6" cy="296.1" r="1.01" fill="#fff"/>
<circle cx="6.5" cy="247.7" r="1.62"/>
<circle cx="52.7" cy="274.5" r="1.11" fill="#fff"/>
<circle cx="62.4" cy="286.2" r="1.57"/>
<circle cx="64.7" cy="274.3" r="2.44"/>
<circle cx="19.4" cy="239.7" r="1.92"/>
<circle cx="54.7" cy="269.0" r="2.38"/>
<circle cx="60.7" cy="296.4" r="2.19"/>
<circle cx="26.0" cy="223.2" r="1.08" fill="#fff"/>
<circle cx="12.0" cy="254.4" r="2.06"/>
<circle cx="29.5" cy="256.9" r="1.91"/>
<circle cx="19.8" cy="249.2" r="2.05"/>
<circle cx="51.2" cy="253.6" r="2.49"/>
<circle cx="58.8" cy="289.8" r="1.52"/>
<circle cx="14.5" cy="272.9" r="0.98" fill="#fff"/>
<circle cx="71.0" cy="279.5" r="2.38"/>
<circle cx="38.3" cy="246.7" r="1.60"/>
<circle cx="10.5" cy="272.3" r="1.25" fill="#fff"/>
<circle cx="52.0" cy="284.5" r="2.24"/>
<circle cx="23.3" cy="287.9" r="2.29"/>
<circle cx="78.4" cy="275.6" r="2.15"/>
<circle cx="14.0" cy="291.7" r="1.99"/>
<circle cx="51.4" cy="274.4" r="1.88"/>
<circle cx="59.4" cy="252.8" r="1.90"/>
<circle cx="50.9" cy="279.9" r="2.06"/>
<circle cx="54.1" cy="302.4" r="1.39"/>
<circle cx="63.5" cy="242.9" r="2.41"/>
<circle cx="58.5" cy="269.1" r="1.40"/>
<circle cx="61.6" cy="273.9" r="1.73"/>
<circle cx="41.2" cy="277.7" r="2.37"/>
<circle cx="51.7" cy="253.6" r="2.44"/>
<circle cx="52.4" cy="250.1" r="1.97"/>
<circle cx="65.3" cy="272.9" r="1.59"/>
<circle cx="29.9" cy="246.8" r="1.45" fill="#fff"/>
<circle cx="57.9" cy="290.3" r="1.44"/>
<circle cx="44.2" cy="301.6" r="1.46"/>
<circle cx="19.2" cy="301.6" r="2.39"/>
<circle cx="16.9" cy="248.6" r="1.61"/>
<circle cx="28.8" cy="289.3" r="1.76"/>
<circle cx="54.7" cy="302.9" r="2.43"/>
<circle cx="59.7" cy="249.2" r="1.50" fill="#fff"/>
<circle cx="53.5" cy="239.4" r="1.86"/>
<circle cx="68.0" cy="274.9" r="1.08" fill="#fff"/>
<circle cx="9.9" cy="250.2" r="0.99" fill="#fff"/>
<circle cx="55.5" cy="252.5" r="2.46"/>
<circle cx="58.4" cy="267.3" r="0.91" fill="#fff"/>
<circle cx="12.1" cy="236.4" r="2.17"/>
<circle cx="9.9" cy="238.5" r="1.45"/>
<circle cx="59.8" cy="284.1" r="1.04" fill="#fff"/>
<circle cx="22.5" cy="226.5" r="1.60" fill="#fff"/>
<circle cx="76.1" cy="302.7" r="1.33"/>
<circle cx="3.3" cy="297.2" r="1.74" fill="#fff"/>
<circle cx="9.2" cy="250.4" r="0.98" fill="#fff"/>
<circle cx="64.3" cy="287.0" r="1.89"/>
<circle cx="52.8" cy="286.4" r="1.46"/>
<circle cx="56.1" cy="300.2" r="1.02" fill="#fff"/>
<circle cx="62.0" cy="255.5" r="1.69" fill="#fff"/>
<circle cx="51.4" cy="271.5" r="2.44"/>
</g></g>
<text x="129.15" y="217.80" font-size="10.4" font-weight="bold" font-style="normal" text-anchor="middle"  stroke="#000" stroke-width="0.30">Tln1 WA/fl Cre+</text>
<clipPath id="cp1"><rect x="87" y="223.1" width="84.3" height="83.50000000000003"/></clipPath>
<rect x="87" y="223.1" width="84.3" height="83.50000000000003" fill="#000"/>
<g clip-path="url(#cp1)"><g filter="url(#wob)" fill="#333" stroke="#f4f4f4" stroke-width="1.12">
<circle cx="121.0" cy="240.5" r="1.04" fill="#fff"/>
<circle cx="161.4" cy="256.1" r="1.62"/>
<circle cx="143.4" cy="223.6" r="1.74"/>
<circle cx="88.8" cy="281.9" r="1.24" fill="#fff"/>
<circle cx="89.9" cy="238.2" r="1.32"/>
<circle cx="144.6" cy="223.6" r="1.19"/>
<circle cx="155.2" cy="289.3" r="1.35"/>
<circle cx="161.6" cy="251.3" r="1.75"/>
<circle cx="116.5" cy="227.9" r="1.44" fill="#fff"/>
<circle cx="166.0" cy="244.0" r="1.27"/>
<circle cx="163.0" cy="249.7" r="1.87"/>
<circle cx="133.6" cy="267.8" r="2.18"/>
<circle cx="144.2" cy="297.8" r="0.85" fill="#fff"/>
<circle cx="92.6" cy="235.5" r="1.53"/>
<circle cx="107.3" cy="259.4" r="1.03" fill="#fff"/>
<circle cx="124.0" cy="278.8" r="1.93"/>
<circle cx="164.7" cy="228.0" r="1.65"/>
<circle cx="169.3" cy="289.7" r="1.37" fill="#fff"/>
<circle cx="147.2" cy="257.9" r="0.99" fill="#fff"/>
<circle cx="154.1" cy="231.1" r="0.95" fill="#fff"/>
<circle cx="162.9" cy="260.6" r="1.36"/>
<circle cx="135.6" cy="263.3" r="0.89" fill="#fff"/>
<circle cx="137.8" cy="306.1" r="0.91" fill="#fff"/>
<circle cx="119.7" cy="269.7" r="2.09"/>
<circle cx="126.6" cy="239.8" r="1.33"/>
<circle cx="105.9" cy="267.0" r="1.49" fill="#fff"/>
<circle cx="94.7" cy="278.3" r="1.46" fill="#fff"/>
<circle cx="166.8" cy="226.7" r="0.81" fill="#fff"/>
<circle cx="148.4" cy="280.2" r="1.59"/>
<circle cx="122.4" cy="294.8" r="1.73"/>
<circle cx="87.9" cy="281.2" r="1.84"/>
<circle cx="98.5" cy="301.9" r="1.30"/>
<circle cx="151.3" cy="299.2" r="1.97"/>
<circle cx="131.6" cy="270.1" r="1.77"/>
<circle cx="156.7" cy="233.1" r="1.70"/>
<circle cx="98.8" cy="236.3" r="1.42" fill="#fff"/>
<circle cx="154.9" cy="229.3" r="1.32" fill="#fff"/>
<circle cx="114.2" cy="236.0" r="1.49" fill="#fff"/>
<circle cx="147.7" cy="299.1" r="2.10"/>
<circle cx="152.1" cy="271.6" r="2.12"/>
<circle cx="113.9" cy="271.0" r="1.46"/>
<circle cx="147.2" cy="224.0" r="1.63"/>
<circle cx="160.6" cy="244.0" r="1.52" fill="#fff"/>
<circle cx="160.6" cy="296.3" r="0.94" fill="#fff"/>
<circle cx="156.3" cy="288.4" r="1.21"/>
<circle cx="159.3" cy="281.3" r="1.32"/>
<circle cx="114.0" cy="258.2" r="1.35" fill="#fff"/>
<circle cx="91.9" cy="289.2" r="1.48"/>
<circle cx="105.3" cy="293.5" r="2.21"/>
<circle cx="89.3" cy="238.4" r="1.49"/>
<circle cx="135.0" cy="285.5" r="1.71"/>
<circle cx="106.1" cy="306.4" r="1.56"/>
<circle cx="106.8" cy="250.7" r="2.22"/>
<circle cx="93.9" cy="268.1" r="0.82" fill="#fff"/>
<circle cx="146.2" cy="267.2" r="1.25" fill="#fff"/>
<circle cx="119.3" cy="282.8" r="1.61"/>
<circle cx="93.2" cy="239.7" r="1.18" fill="#fff"/>
<circle cx="91.7" cy="225.8" r="1.88"/>
<circle cx="165.5" cy="296.9" r="0.95" fill="#fff"/>
<circle cx="119.9" cy="258.5" r="2.05"/>
<circle cx="125.4" cy="233.4" r="1.65"/>
<circle cx="148.1" cy="273.5" r="1.49"/>
<circle cx="107.4" cy="247.6" r="2.01"/>
<circle cx="158.3" cy="233.2" r="2.11"/>
<circle cx="147.4" cy="274.8" r="2.09"/>
<circle cx="91.6" cy="290.2" r="1.94"/>
<circle cx="96.3" cy="259.6" r="2.04"/>
<circle cx="114.7" cy="236.0" r="1.63"/>
<circle cx="166.9" cy="249.9" r="1.84"/>
<circle cx="149.5" cy="278.4" r="1.43" fill="#fff"/>
<circle cx="153.0" cy="238.3" r="1.76"/>
<circle cx="96.4" cy="261.4" r="1.45"/>
<circle cx="165.5" cy="302.3" r="1.41"/>
<circle cx="108.1" cy="300.4" r="1.16"/>
<circle cx="92.6" cy="231.9" r="1.30"/>
<circle cx="107.8" cy="224.5" r="1.44"/>
<circle cx="168.7" cy="228.7" r="1.66"/>
<circle cx="99.5" cy="303.0" r="1.79"/>
<circle cx="115.7" cy="302.6" r="2.21"/>
<circle cx="129.9" cy="290.6" r="1.45"/>
<circle cx="169.4" cy="248.7" r="0.90" fill="#fff"/>
<circle cx="108.5" cy="294.4" r="1.56"/>
<circle cx="171.0" cy="261.9" r="1.55"/>
<circle cx="144.6" cy="235.9" r="1.33"/>
<circle cx="120.2" cy="249.7" r="1.98"/>
<circle cx="96.8" cy="229.1" r="1.68"/>
<circle cx="124.0" cy="299.9" r="1.78"/>
<circle cx="160.4" cy="275.1" r="1.38"/>
<circle cx="153.0" cy="258.1" r="0.86" fill="#fff"/>
<circle cx="128.9" cy="273.9" r="1.65"/>
<circle cx="141.3" cy="301.3" r="1.45"/>
<circle cx="131.8" cy="239.2" r="1.84"/>
<circle cx="169.8" cy="225.3" r="1.82"/>
<circle cx="128.5" cy="303.6" r="1.84"/>
<circle cx="142.5" cy="236.5" r="1.09" fill="#fff"/>
<circle cx="116.8" cy="253.3" r="1.31"/>
<circle cx="96.3" cy="263.3" r="1.46"/>
<circle cx="150.0" cy="231.0" r="1.92"/>
<circle cx="154.5" cy="291.7" r="1.37" fill="#fff"/>
<circle cx="165.5" cy="228.5" r="1.35" fill="#fff"/>
<circle cx="149.2" cy="238.2" r="2.08"/>
<circle cx="140.4" cy="291.2" r="1.47"/>
<circle cx="144.8" cy="274.0" r="1.54"/>
<circle cx="120.5" cy="283.8" r="1.84"/>
<circle cx="92.2" cy="287.8" r="1.41" fill="#fff"/>
<circle cx="107.2" cy="249.4" r="1.82"/>
<circle cx="133.7" cy="278.4" r="1.50"/>
<circle cx="166.5" cy="282.3" r="1.58"/>
<circle cx="161.7" cy="232.4" r="1.21" fill="#fff"/>
<circle cx="143.9" cy="255.8" r="2.19"/>
<circle cx="145.1" cy="244.5" r="2.11"/>
<circle cx="92.5" cy="227.5" r="2.03"/>
<circle cx="91.2" cy="262.2" r="1.60"/>
<circle cx="97.0" cy="281.3" r="0.81" fill="#fff"/>
<circle cx="124.1" cy="294.6" r="2.01"/>
<circle cx="145.4" cy="256.6" r="2.10"/>
<circle cx="114.3" cy="259.1" r="1.52" fill="#fff"/>
<circle cx="144.9" cy="298.7" r="1.01" fill="#fff"/>
<circle cx="92.5" cy="226.4" r="1.72"/>
<circle cx="115.3" cy="301.3" r="1.69"/>
<circle cx="102.4" cy="232.2" r="1.81"/>
<circle cx="103.4" cy="273.5" r="1.80"/>
<circle cx="160.6" cy="246.2" r="1.42"/>
<circle cx="115.7" cy="260.4" r="2.15"/>
<circle cx="100.4" cy="266.1" r="2.03"/>
<circle cx="164.6" cy="251.2" r="1.08" fill="#fff"/>
<circle cx="162.7" cy="235.1" r="1.96"/>
<circle cx="147.7" cy="254.5" r="1.33"/>
<circle cx="121.0" cy="268.0" r="1.29"/>
<circle cx="159.0" cy="242.1" r="1.19"/>
<circle cx="90.3" cy="288.9" r="1.25"/>
<circle cx="165.5" cy="253.3" r="1.70"/>
<circle cx="169.0" cy="279.8" r="1.66"/>
<circle cx="109.7" cy="254.5" r="2.23"/>
<circle cx="112.7" cy="250.7" r="2.09"/>
<circle cx="167.4" cy="263.6" r="2.12"/>
<circle cx="114.5" cy="242.6" r="1.02" fill="#fff"/>
<circle cx="87.1" cy="249.5" r="1.98"/>
<circle cx="169.9" cy="280.3" r="1.91"/>
<circle cx="168.9" cy="282.5" r="1.34"/>
<circle cx="112.5" cy="266.3" r="1.29" fill="#fff"/>
<circle cx="159.9" cy="266.7" r="1.03" fill="#fff"/>
<circle cx="107.0" cy="255.0" r="1.49"/>
<circle cx="166.5" cy="276.9" r="1.98"/>
<circle cx="150.4" cy="259.3" r="1.39"/>
<circle cx="129.5" cy="306.2" r="1.63"/>
<circle cx="111.5" cy="254.7" r="1.18" fill="#fff"/>
<circle cx="138.7" cy="260.5" r="1.44"/>
<circle cx="120.0" cy="280.9" r="1.34"/>
<circle cx="165.8" cy="243.4" r="1.29" fill="#fff"/>
<circle cx="104.5" cy="264.1" r="1.45"/>
<circle cx="136.6" cy="259.8" r="2.21"/>
<circle cx="160.9" cy="286.1" r="1.20" fill="#fff"/>
<circle cx="167.2" cy="237.8" r="1.29" fill="#fff"/>
<circle cx="143.2" cy="223.3" r="1.56"/>
<circle cx="107.4" cy="247.9" r="2.18"/>
<circle cx="145.7" cy="283.8" r="1.41"/>
<circle cx="127.7" cy="241.9" r="2.16"/>
<circle cx="142.2" cy="294.9" r="1.99"/>
<circle cx="107.9" cy="276.9" r="1.54" fill="#fff"/>
<circle cx="155.0" cy="259.8" r="1.40" fill="#fff"/>
<circle cx="156.3" cy="241.8" r="0.83" fill="#fff"/>
<circle cx="156.9" cy="246.5" r="1.59"/>
<circle cx="151.4" cy="254.4" r="1.24" fill="#fff"/>
<circle cx="143.6" cy="259.9" r="1.50" fill="#fff"/>
<circle cx="97.6" cy="284.7" r="2.22"/>
<circle cx="124.1" cy="287.1" r="1.89"/>
<circle cx="133.0" cy="288.7" r="1.54"/>
<circle cx="143.5" cy="224.0" r="1.90"/>
<circle cx="97.5" cy="223.4" r="1.76"/>
<circle cx="168.1" cy="270.1" r="1.28"/>
<circle cx="133.2" cy="284.3" r="1.15"/>
<circle cx="115.9" cy="254.4" r="2.03"/>
<circle cx="158.8" cy="245.8" r="1.54" fill="#fff"/>
<circle cx="155.7" cy="224.5" r="1.86"/>
<circle cx="152.8" cy="255.0" r="2.15"/>
<circle cx="115.7" cy="282.7" r="2.00"/>
<circle cx="98.9" cy="273.0" r="1.26" fill="#fff"/>
<circle cx="158.6" cy="277.7" r="1.56" fill="#fff"/>
<circle cx="94.1" cy="278.8" r="0.90" fill="#fff"/>
<circle cx="118.8" cy="294.7" r="0.97" fill="#fff"/>
<circle cx="125.2" cy="241.4" r="1.76"/>
<circle cx="122.9" cy="235.8" r="1.42"/>
<circle cx="105.4" cy="295.1" r="2.17"/>
<circle cx="159.5" cy="264.5" r="2.05"/>
<circle cx="134.8" cy="285.6" r="1.41"/>
<circle cx="153.3" cy="291.0" r="1.60"/>
<circle cx="123.7" cy="304.7" r="2.14"/>
<circle cx="156.0" cy="282.8" r="1.06" fill="#fff"/>
<circle cx="111.0" cy="240.4" r="0.91" fill="#fff"/>
<circle cx="157.5" cy="289.6" r="2.12"/>
<circle cx="153.8" cy="259.9" r="1.23" fill="#fff"/>
<circle cx="159.6" cy="300.3" r="1.78"/>
<circle cx="125.4" cy="300.4" r="2.15"/>
<circle cx="112.8" cy="284.9" r="1.31"/>
<circle cx="112.7" cy="305.2" r="1.63"/>
<circle cx="163.7" cy="299.4" r="1.42"/>
<circle cx="140.6" cy="280.6" r="2.10"/>
<circle cx="138.4" cy="228.5" r="2.09"/>
<circle cx="92.1" cy="279.6" r="1.40"/>
<circle cx="144.9" cy="242.1" r="2.09"/>
<circle cx="132.0" cy="294.6" r="2.16"/>
<circle cx="112.8" cy="263.9" r="1.80"/>
<circle cx="158.5" cy="259.0" r="0.87" fill="#fff"/>
<circle cx="147.9" cy="255.8" r="1.50" fill="#fff"/>
</g></g>
<text x="215.85" y="217.80" font-size="10.4" font-weight="bold" font-style="normal" text-anchor="middle"  stroke="#000" stroke-width="0.30">Tln1 LR/fl Cre+</text>
<clipPath id="cp2"><rect x="173.7" y="223.1" width="84.3" height="83.50000000000003"/></clipPath>
<rect x="173.7" y="223.1" width="84.3" height="83.50000000000003" fill="#000"/>
<g clip-path="url(#cp2)"><g filter="url(#wob2)" fill="#eee">
<ellipse cx="210.9" cy="264.9" rx="1.58" ry="1.11" transform="rotate(26 210.9 264.9)"/>
<ellipse cx="194.5" cy="230.8" rx="1.79" ry="1.12" transform="rotate(92 194.5 230.8)"/>
<ellipse cx="250.2" cy="237.0" rx="1.53" ry="1.11" transform="rotate(114 250.2 237.0)"/>
<ellipse cx="248.1" cy="255.2" rx="1.48" ry="1.12" transform="rotate(169 248.1 255.2)"/>
<ellipse cx="192.3" cy="257.7" rx="1.26" ry="0.99" transform="rotate(41 192.3 257.7)" fill="#999"/>
<ellipse cx="183.7" cy="235.7" rx="1.31" ry="0.85" transform="rotate(131 183.7 235.7)" fill="#999"/>
<ellipse cx="198.7" cy="285.2" rx="1.64" ry="1.01" transform="rotate(145 198.7 285.2)"/>
<ellipse cx="227.9" cy="242.0" rx="1.18" ry="0.96" transform="rotate(142 227.9 242.0)"/>
<ellipse cx="251.2" cy="262.3" rx="1.38" ry="0.98" transform="rotate(39 251.2 262.3)"/>
<ellipse cx="233.1" cy="303.2" rx="1.36" ry="1.13" transform="rotate(151 233.1 303.2)"/>
<ellipse cx="246.8" cy="228.1" rx="1.83" ry="1.34" transform="rotate(26 246.8 228.1)"/>
<ellipse cx="247.8" cy="302.9" rx="1.18" ry="0.76" transform="rotate(165 247.8 302.9)" fill="#999"/>
<ellipse cx="174.5" cy="271.8" rx="1.53" ry="1.25" transform="rotate(166 174.5 271.8)" fill="#999"/>
<ellipse cx="224.1" cy="262.4" rx="1.95" ry="1.48" transform="rotate(158 224.1 262.4)"/>
<ellipse cx="180.4" cy="281.1" rx="1.52" ry="1.03" transform="rotate(117 180.4 281.1)" fill="#999"/>
<ellipse cx="188.6" cy="304.8" rx="1.70" ry="1.24" transform="rotate(24 188.6 304.8)"/>
<ellipse cx="257.5" cy="224.6" rx="2.22" ry="1.33" transform="rotate(150 257.5 224.6)"/>
<ellipse cx="206.6" cy="259.9" rx="1.63" ry="0.87" transform="rotate(146 206.6 259.9)"/>
<ellipse cx="227.1" cy="246.8" rx="2.03" ry="1.13" transform="rotate(154 227.1 246.8)"/>
<ellipse cx="252.1" cy="240.4" rx="1.31" ry="0.96" transform="rotate(39 252.1 240.4)"/>
<ellipse cx="194.4" cy="272.0" rx="1.17" ry="1.00" transform="rotate(146 194.4 272.0)"/>
<ellipse cx="201.8" cy="231.2" rx="1.80" ry="0.96" transform="rotate(14 201.8 231.2)"/>
<ellipse cx="235.8" cy="247.7" rx="1.84" ry="1.32" transform="rotate(92 235.8 247.7)" fill="#999"/>
<ellipse cx="206.1" cy="302.8" rx="1.48" ry="1.24" transform="rotate(28 206.1 302.8)" fill="#999"/>
<ellipse cx="223.9" cy="287.4" rx="1.71" ry="1.17" transform="rotate(67 223.9 287.4)"/>
<ellipse cx="236.2" cy="252.1" rx="1.42" ry="1.12" transform="rotate(66 236.2 252.1)"/>
<ellipse cx="194.1" cy="252.8" rx="1.19" ry="1.02" transform="rotate(70 194.1 252.8)"/>
<ellipse cx="255.6" cy="256.8" rx="1.14" ry="0.97" transform="rotate(149 255.6 256.8)"/>
<ellipse cx="253.6" cy="239.6" rx="1.99" ry="1.34" transform="rotate(75 253.6 239.6)"/>
<ellipse cx="222.6" cy="288.1" rx="1.60" ry="1.41" transform="rotate(107 222.6 288.1)" fill="#999"/>
<ellipse cx="250.0" cy="300.5" rx="1.24" ry="0.83" transform="rotate(126 250.0 300.5)"/>
<ellipse cx="247.7" cy="303.2" rx="1.97" ry="1.13" transform="rotate(58 247.7 303.2)" fill="#999"/>
<ellipse cx="201.6" cy="266.1" rx="1.86" ry="1.07" transform="rotate(59 201.6 266.1)"/>
<ellipse cx="229.3" cy="240.4" rx="1.68" ry="1.28" transform="rotate(71 229.3 240.4)"/>
<ellipse cx="232.2" cy="281.2" rx="1.14" ry="0.77" transform="rotate(166 232.2 281.2)"/>
<ellipse cx="237.4" cy="292.4" rx="2.01" ry="1.40" transform="rotate(169 237.4 292.4)"/>
<ellipse cx="257.1" cy="254.4" rx="1.94" ry="1.16" transform="rotate(169 257.1 254.4)"/>
<ellipse cx="184.2" cy="294.2" rx="1.37" ry="0.80" transform="rotate(18 184.2 294.2)"/>
<ellipse cx="238.8" cy="239.0" rx="1.50" ry="1.26" transform="rotate(164 238.8 239.0)"/>
<ellipse cx="226.0" cy="288.7" rx="1.64" ry="1.06" transform="rotate(3 226.0 288.7)" fill="#999"/>
<ellipse cx="253.0" cy="240.7" rx="1.77" ry="1.01" transform="rotate(14 253.0 240.7)" fill="#999"/>
<ellipse cx="233.5" cy="283.0" rx="1.62" ry="1.05" transform="rotate(107 233.5 283.0)"/>
<ellipse cx="242.8" cy="293.6" rx="1.40" ry="0.77" transform="rotate(1 242.8 293.6)"/>
<ellipse cx="229.1" cy="237.5" rx="1.35" ry="0.91" transform="rotate(69 229.1 237.5)"/>
<ellipse cx="246.5" cy="306.4" rx="1.38" ry="1.37" transform="rotate(116 246.5 306.4)"/>
<ellipse cx="230.4" cy="242.3" rx="1.00" ry="0.69" transform="rotate(174 230.4 242.3)"/>
<ellipse cx="239.0" cy="241.5" rx="1.83" ry="1.34" transform="rotate(132 239.0 241.5)"/>
<ellipse cx="194.8" cy="244.1" rx="1.13" ry="0.72" transform="rotate(179 194.8 244.1)"/>
<ellipse cx="256.0" cy="247.1" rx="1.54" ry="1.12" transform="rotate(59 256.0 247.1)"/>
<ellipse cx="221.8" cy="296.3" rx="1.66" ry="1.11" transform="rotate(92 221.8 296.3)" fill="#999"/>
<ellipse cx="216.6" cy="264.8" rx="1.65" ry="1.12" transform="rotate(64 216.6 264.8)"/>
<ellipse cx="241.4" cy="288.0" rx="1.51" ry="1.24" transform="rotate(117 241.4 288.0)"/>
<ellipse cx="181.4" cy="255.4" rx="1.15" ry="0.90" transform="rotate(20 181.4 255.4)"/>
<ellipse cx="188.5" cy="304.1" rx="1.99" ry="1.23" transform="rotate(49 188.5 304.1)"/>
<ellipse cx="175.4" cy="233.8" rx="1.41" ry="1.11" transform="rotate(137 175.4 233.8)"/>
<ellipse cx="174.1" cy="286.8" rx="1.07" ry="0.74" transform="rotate(89 174.1 286.8)"/>
<ellipse cx="175.0" cy="273.6" rx="1.67" ry="1.30" transform="rotate(85 175.0 273.6)"/>
<ellipse cx="219.4" cy="234.9" rx="1.23" ry="0.74" transform="rotate(107 219.4 234.9)"/>
<ellipse cx="216.9" cy="262.4" rx="1.86" ry="1.09" transform="rotate(101 216.9 262.4)" fill="#999"/>
<ellipse cx="233.5" cy="228.2" rx="1.37" ry="1.06" transform="rotate(117 233.5 228.2)" fill="#999"/>
<ellipse cx="214.1" cy="283.8" rx="1.02" ry="0.65" transform="rotate(80 214.1 283.8)"/>
<ellipse cx="185.4" cy="231.9" rx="1.28" ry="0.88" transform="rotate(19 185.4 231.9)"/>
<ellipse cx="175.8" cy="234.3" rx="1.08" ry="0.93" transform="rotate(20 175.8 234.3)"/>
<ellipse cx="248.5" cy="288.4" rx="1.92" ry="0.97" transform="rotate(121 248.5 288.4)" fill="#999"/>
<ellipse cx="184.6" cy="258.5" rx="1.51" ry="1.06" transform="rotate(139 184.6 258.5)" fill="#999"/>
<ellipse cx="237.9" cy="293.1" rx="1.64" ry="1.21" transform="rotate(9 237.9 293.1)"/>
<ellipse cx="202.4" cy="246.4" rx="1.40" ry="0.86" transform="rotate(178 202.4 246.4)"/>
<ellipse cx="214.7" cy="301.3" rx="1.19" ry="0.88" transform="rotate(122 214.7 301.3)" fill="#999"/>
<ellipse cx="223.9" cy="294.1" rx="1.59" ry="0.95" transform="rotate(173 223.9 294.1)"/>
<ellipse cx="250.8" cy="232.4" rx="1.94" ry="1.18" transform="rotate(95 250.8 232.4)"/>
<ellipse cx="237.7" cy="259.8" rx="1.58" ry="1.04" transform="rotate(33 237.7 259.8)" fill="#999"/>
<ellipse cx="231.0" cy="230.5" rx="1.65" ry="1.28" transform="rotate(156 231.0 230.5)" fill="#999"/>
<ellipse cx="254.6" cy="228.8" rx="1.61" ry="1.28" transform="rotate(160 254.6 228.8)"/>
<ellipse cx="223.6" cy="225.6" rx="1.63" ry="1.38" transform="rotate(28 223.6 225.6)" fill="#999"/>
<ellipse cx="223.1" cy="237.4" rx="1.48" ry="0.97" transform="rotate(141 223.1 237.4)"/>
<ellipse cx="177.9" cy="237.4" rx="1.99" ry="1.24" transform="rotate(174 177.9 237.4)"/>
<ellipse cx="232.3" cy="252.9" rx="1.92" ry="1.24" transform="rotate(170 232.3 252.9)"/>
<ellipse cx="234.6" cy="297.0" rx="1.49" ry="1.10" transform="rotate(92 234.6 297.0)" fill="#999"/>
<ellipse cx="229.0" cy="248.8" rx="1.21" ry="0.89" transform="rotate(155 229.0 248.8)"/>
<ellipse cx="216.9" cy="228.7" rx="1.29" ry="0.84" transform="rotate(77 216.9 228.7)"/>
<ellipse cx="211.1" cy="291.5" rx="1.63" ry="1.06" transform="rotate(173 211.1 291.5)"/>
<ellipse cx="193.2" cy="245.5" rx="1.50" ry="0.98" transform="rotate(177 193.2 245.5)"/>
<ellipse cx="209.8" cy="226.8" rx="1.47" ry="0.91" transform="rotate(5 209.8 226.8)" fill="#999"/>
<ellipse cx="246.4" cy="275.3" rx="1.78" ry="1.45" transform="rotate(159 246.4 275.3)"/>
<ellipse cx="182.3" cy="243.0" rx="1.58" ry="0.89" transform="rotate(91 182.3 243.0)"/>
<ellipse cx="182.1" cy="224.1" rx="1.57" ry="1.08" transform="rotate(15 182.1 224.1)"/>
<ellipse cx="196.7" cy="251.1" rx="1.08" ry="1.06" transform="rotate(128 196.7 251.1)" fill="#999"/>
<ellipse cx="228.8" cy="285.2" rx="1.28" ry="0.78" transform="rotate(177 228.8 285.2)" fill="#999"/>
<ellipse cx="215.0" cy="274.2" rx="1.43" ry="1.04" transform="rotate(126 215.0 274.2)"/>
<ellipse cx="197.6" cy="259.6" rx="1.44" ry="0.93" transform="rotate(156 197.6 259.6)" fill="#999"/>
<ellipse cx="202.4" cy="282.9" rx="1.70" ry="1.27" transform="rotate(125 202.4 282.9)"/>
<ellipse cx="205.9" cy="223.8" rx="1.58" ry="1.02" transform="rotate(158 205.9 223.8)" fill="#999"/>
<ellipse cx="231.1" cy="239.6" rx="2.04" ry="1.37" transform="rotate(11 231.1 239.6)"/>
<ellipse cx="216.0" cy="282.7" rx="1.96" ry="1.21" transform="rotate(103 216.0 282.7)"/>
<ellipse cx="232.6" cy="304.7" rx="1.67" ry="0.98" transform="rotate(111 232.6 304.7)" fill="#999"/>
<ellipse cx="185.9" cy="276.8" rx="1.70" ry="1.53" transform="rotate(123 185.9 276.8)" fill="#999"/>
<ellipse cx="214.0" cy="272.1" rx="1.82" ry="1.35" transform="rotate(48 214.0 272.1)"/>
<ellipse cx="241.8" cy="247.1" rx="1.84" ry="1.40" transform="rotate(11 241.8 247.1)"/>
<ellipse cx="193.4" cy="244.7" rx="1.24" ry="0.93" transform="rotate(167 193.4 244.7)"/>
<ellipse cx="212.7" cy="244.3" rx="1.44" ry="1.14" transform="rotate(61 212.7 244.3)"/>
<ellipse cx="190.3" cy="293.1" rx="1.72" ry="0.97" transform="rotate(121 190.3 293.1)" fill="#999"/>
<ellipse cx="249.5" cy="250.6" rx="1.69" ry="0.99" transform="rotate(33 249.5 250.6)"/>
<ellipse cx="196.7" cy="241.1" rx="1.67" ry="1.02" transform="rotate(114 196.7 241.1)"/>
<ellipse cx="174.4" cy="262.6" rx="1.56" ry="1.34" transform="rotate(157 174.4 262.6)"/>
<ellipse cx="204.3" cy="277.9" rx="1.60" ry="0.90" transform="rotate(81 204.3 277.9)" fill="#999"/>
<ellipse cx="242.2" cy="242.3" rx="1.30" ry="0.75" transform="rotate(37 242.2 242.3)"/>
<ellipse cx="247.5" cy="302.1" rx="2.05" ry="1.02" transform="rotate(73 247.5 302.1)"/>
<ellipse cx="214.8" cy="294.9" rx="1.95" ry="1.17" transform="rotate(61 214.8 294.9)"/>
<ellipse cx="236.6" cy="282.6" rx="1.74" ry="1.16" transform="rotate(180 236.6 282.6)" fill="#999"/>
<ellipse cx="216.1" cy="259.7" rx="1.12" ry="0.92" transform="rotate(52 216.1 259.7)"/>
<ellipse cx="227.4" cy="238.3" rx="1.66" ry="1.23" transform="rotate(14 227.4 238.3)"/>
<ellipse cx="184.4" cy="237.2" rx="1.47" ry="1.04" transform="rotate(88 184.4 237.2)" fill="#999"/>
<ellipse cx="237.0" cy="245.1" rx="1.23" ry="1.13" transform="rotate(28 237.0 245.1)"/>
<ellipse cx="245.3" cy="285.1" rx="1.23" ry="0.91" transform="rotate(47 245.3 285.1)"/>
<ellipse cx="203.7" cy="243.9" rx="1.16" ry="1.06" transform="rotate(88 203.7 243.9)"/>
<ellipse cx="224.3" cy="286.9" rx="1.72" ry="1.20" transform="rotate(161 224.3 286.9)"/>
<ellipse cx="204.0" cy="259.8" rx="1.44" ry="1.39" transform="rotate(46 204.0 259.8)"/>
<ellipse cx="251.4" cy="244.9" rx="1.06" ry="0.69" transform="rotate(87 251.4 244.9)"/>
<ellipse cx="254.8" cy="275.2" rx="0.98" ry="0.93" transform="rotate(59 254.8 275.2)"/>
<ellipse cx="227.0" cy="299.8" rx="1.12" ry="0.83" transform="rotate(133 227.0 299.8)"/>
<ellipse cx="256.4" cy="252.7" rx="1.24" ry="0.88" transform="rotate(59 256.4 252.7)"/>
<ellipse cx="212.0" cy="301.2" rx="1.13" ry="0.72" transform="rotate(4 212.0 301.2)"/>
<ellipse cx="201.7" cy="300.9" rx="1.59" ry="0.92" transform="rotate(79 201.7 300.9)" fill="#999"/>
<ellipse cx="198.0" cy="295.4" rx="1.93" ry="1.28" transform="rotate(59 198.0 295.4)" fill="#999"/>
<ellipse cx="197.5" cy="268.5" rx="1.63" ry="1.46" transform="rotate(136 197.5 268.5)"/>
<ellipse cx="241.3" cy="256.4" rx="1.57" ry="0.87" transform="rotate(19 241.3 256.4)" fill="#999"/>
<ellipse cx="251.2" cy="231.9" rx="1.99" ry="1.46" transform="rotate(17 251.2 231.9)"/>
<ellipse cx="206.5" cy="262.6" rx="0.98" ry="0.91" transform="rotate(5 206.5 262.6)" fill="#999"/>
<ellipse cx="230.2" cy="239.2" rx="1.23" ry="0.77" transform="rotate(134 230.2 239.2)"/>
<ellipse cx="249.2" cy="244.9" rx="1.65" ry="1.00" transform="rotate(50 249.2 244.9)"/>
<ellipse cx="245.9" cy="277.9" rx="1.19" ry="0.88" transform="rotate(103 245.9 277.9)"/>
<ellipse cx="204.3" cy="235.4" rx="1.25" ry="0.93" transform="rotate(78 204.3 235.4)"/>
<ellipse cx="246.9" cy="235.9" rx="1.79" ry="1.06" transform="rotate(130 246.9 235.9)"/>
<ellipse cx="249.4" cy="259.5" rx="1.45" ry="1.07" transform="rotate(144 249.4 259.5)"/>
<ellipse cx="182.5" cy="281.6" rx="1.13" ry="0.89" transform="rotate(90 182.5 281.6)" fill="#999"/>
<ellipse cx="220.7" cy="305.6" rx="2.04" ry="1.12" transform="rotate(122 220.7 305.6)" fill="#999"/>
<ellipse cx="220.1" cy="286.0" rx="1.23" ry="0.88" transform="rotate(168 220.1 286.0)" fill="#999"/>
<ellipse cx="220.3" cy="273.9" rx="1.41" ry="0.97" transform="rotate(158 220.3 273.9)"/>
<ellipse cx="240.3" cy="242.5" rx="1.53" ry="1.09" transform="rotate(39 240.3 242.5)" fill="#999"/>
<ellipse cx="222.4" cy="304.8" rx="1.52" ry="1.05" transform="rotate(63 222.4 304.8)"/>
<ellipse cx="245.0" cy="228.9" rx="1.60" ry="0.88" transform="rotate(1 245.0 228.9)" fill="#999"/>
<ellipse cx="215.9" cy="226.1" rx="1.43" ry="0.86" transform="rotate(161 215.9 226.1)"/>
<ellipse cx="224.2" cy="272.9" rx="1.89" ry="1.33" transform="rotate(85 224.2 272.9)"/>
<ellipse cx="200.0" cy="269.6" rx="1.42" ry="0.93" transform="rotate(65 200.0 269.6)" fill="#999"/>
<ellipse cx="187.6" cy="303.2" rx="1.91" ry="1.26" transform="rotate(177 187.6 303.2)" fill="#999"/>
<ellipse cx="251.7" cy="285.5" rx="1.51" ry="0.94" transform="rotate(108 251.7 285.5)"/>
<ellipse cx="202.6" cy="260.2" rx="1.59" ry="0.98" transform="rotate(135 202.6 260.2)"/>
<ellipse cx="194.6" cy="235.8" rx="1.28" ry="1.06" transform="rotate(12 194.6 235.8)"/>
<ellipse cx="245.5" cy="290.6" rx="1.38" ry="1.02" transform="rotate(165 245.5 290.6)" fill="#999"/>
<ellipse cx="205.2" cy="255.0" rx="1.54" ry="1.19" transform="rotate(166 205.2 255.0)"/>
<ellipse cx="217.1" cy="293.3" rx="1.27" ry="0.89" transform="rotate(172 217.1 293.3)"/>
<ellipse cx="256.3" cy="284.8" rx="1.67" ry="1.00" transform="rotate(96 256.3 284.8)"/>
<ellipse cx="206.1" cy="249.1" rx="1.46" ry="1.25" transform="rotate(0 206.1 249.1)" fill="#999"/>
<ellipse cx="206.2" cy="267.0" rx="1.63" ry="1.06" transform="rotate(84 206.2 267.0)" fill="#999"/>
<ellipse cx="174.8" cy="229.4" rx="1.18" ry="0.79" transform="rotate(160 174.8 229.4)"/>
<ellipse cx="173.8" cy="237.1" rx="1.89" ry="0.99" transform="rotate(88 173.8 237.1)"/>
<ellipse cx="211.1" cy="233.6" rx="1.26" ry="0.90" transform="rotate(60 211.1 233.6)"/>
<ellipse cx="176.7" cy="236.4" rx="1.34" ry="1.12" transform="rotate(145 176.7 236.4)"/>
<ellipse cx="237.6" cy="287.6" rx="1.71" ry="1.35" transform="rotate(173 237.6 287.6)"/>
<ellipse cx="251.4" cy="267.0" rx="1.52" ry="1.04" transform="rotate(14 251.4 267.0)"/>
</g></g>
<text x="302.40" y="217.80" font-size="10.4" font-weight="bold" font-style="normal" text-anchor="middle"  stroke="#000" stroke-width="0.30">Tln1 fl/fl Cre+</text>
<clipPath id="cp3"><rect x="260.5" y="223.1" width="83.8" height="83.50000000000003"/></clipPath>
<rect x="260.5" y="223.1" width="83.8" height="83.50000000000003" fill="#000"/>
<g clip-path="url(#cp3)"><g filter="url(#wob2)" fill="#eee">
<ellipse cx="308.5" cy="292.2" rx="1.36" ry="0.85" transform="rotate(104 308.5 292.2)"/>
<ellipse cx="281.5" cy="246.6" rx="1.82" ry="1.13" transform="rotate(160 281.5 246.6)"/>
<ellipse cx="285.3" cy="263.3" rx="1.04" ry="0.97" transform="rotate(45 285.3 263.3)" fill="#999"/>
<ellipse cx="328.6" cy="281.5" rx="1.47" ry="0.89" transform="rotate(179 328.6 281.5)"/>
<ellipse cx="319.9" cy="247.5" rx="1.48" ry="0.91" transform="rotate(71 319.9 247.5)"/>
<ellipse cx="265.9" cy="260.2" rx="1.39" ry="0.97" transform="rotate(157 265.9 260.2)"/>
<ellipse cx="314.7" cy="254.8" rx="1.22" ry="0.75" transform="rotate(100 314.7 254.8)"/>
<ellipse cx="286.4" cy="299.9" rx="0.98" ry="0.85" transform="rotate(147 286.4 299.9)"/>
<ellipse cx="339.6" cy="280.1" rx="0.98" ry="0.66" transform="rotate(114 339.6 280.1)"/>
<ellipse cx="313.0" cy="236.7" rx="1.04" ry="0.84" transform="rotate(156 313.0 236.7)"/>
<ellipse cx="294.0" cy="272.7" rx="1.28" ry="1.13" transform="rotate(76 294.0 272.7)"/>
<ellipse cx="338.8" cy="223.9" rx="0.85" ry="0.64" transform="rotate(60 338.8 223.9)"/>
<ellipse cx="332.6" cy="244.9" rx="1.64" ry="0.96" transform="rotate(141 332.6 244.9)" fill="#999"/>
<ellipse cx="309.1" cy="262.9" rx="1.39" ry="1.04" transform="rotate(118 309.1 262.9)"/>
<ellipse cx="339.6" cy="232.0" rx="1.24" ry="1.09" transform="rotate(124 339.6 232.0)"/>
<ellipse cx="324.6" cy="227.5" rx="0.94" ry="0.76" transform="rotate(142 324.6 227.5)"/>
<ellipse cx="287.7" cy="252.9" rx="1.11" ry="0.68" transform="rotate(19 287.7 252.9)"/>
<ellipse cx="319.9" cy="246.0" rx="1.21" ry="0.68" transform="rotate(58 319.9 246.0)"/>
<ellipse cx="269.7" cy="279.0" rx="1.68" ry="1.11" transform="rotate(87 269.7 279.0)"/>
<ellipse cx="319.2" cy="276.6" rx="0.99" ry="0.83" transform="rotate(135 319.2 276.6)"/>
<ellipse cx="282.9" cy="232.3" rx="1.29" ry="0.88" transform="rotate(118 282.9 232.3)"/>
<ellipse cx="306.1" cy="253.2" rx="1.19" ry="0.86" transform="rotate(158 306.1 253.2)" fill="#999"/>
<ellipse cx="316.5" cy="239.6" rx="1.47" ry="0.98" transform="rotate(38 316.5 239.6)"/>
<ellipse cx="322.7" cy="273.5" rx="1.50" ry="1.08" transform="rotate(177 322.7 273.5)" fill="#999"/>
<ellipse cx="321.4" cy="262.7" rx="0.85" ry="0.64" transform="rotate(9 321.4 262.7)" fill="#999"/>
<ellipse cx="322.3" cy="224.0" rx="1.81" ry="0.99" transform="rotate(125 322.3 224.0)" fill="#999"/>
<ellipse cx="268.7" cy="266.9" rx="1.04" ry="0.83" transform="rotate(25 268.7 266.9)"/>
<ellipse cx="315.2" cy="270.8" rx="1.27" ry="0.82" transform="rotate(66 315.2 270.8)"/>
<ellipse cx="283.5" cy="283.9" rx="1.15" ry="0.66" transform="rotate(143 283.5 283.9)" fill="#999"/>
<ellipse cx="341.0" cy="272.5" rx="1.49" ry="1.12" transform="rotate(102 341.0 272.5)"/>
<ellipse cx="308.9" cy="257.7" rx="1.59" ry="1.08" transform="rotate(55 308.9 257.7)"/>
<ellipse cx="275.8" cy="299.2" rx="1.22" ry="0.81" transform="rotate(38 275.8 299.2)" fill="#999"/>
<ellipse cx="320.7" cy="236.4" rx="1.05" ry="0.94" transform="rotate(107 320.7 236.4)"/>
<ellipse cx="322.3" cy="243.2" rx="1.36" ry="0.88" transform="rotate(115 322.3 243.2)"/>
<ellipse cx="315.6" cy="287.0" rx="1.35" ry="0.79" transform="rotate(63 315.6 287.0)" fill="#999"/>
<ellipse cx="303.0" cy="252.3" rx="1.17" ry="1.05" transform="rotate(92 303.0 252.3)"/>
<ellipse cx="269.1" cy="303.5" rx="0.87" ry="0.70" transform="rotate(107 269.1 303.5)" fill="#999"/>
<ellipse cx="261.7" cy="296.2" rx="1.15" ry="0.87" transform="rotate(143 261.7 296.2)"/>
<ellipse cx="332.6" cy="265.3" rx="1.48" ry="1.17" transform="rotate(42 332.6 265.3)"/>
<ellipse cx="299.4" cy="244.4" rx="1.44" ry="0.94" transform="rotate(8 299.4 244.4)"/>
<ellipse cx="332.5" cy="262.7" rx="1.25" ry="0.74" transform="rotate(19 332.5 262.7)"/>
<ellipse cx="308.6" cy="283.8" rx="1.29" ry="0.90" transform="rotate(32 308.6 283.8)"/>
<ellipse cx="273.8" cy="282.0" rx="1.28" ry="0.78" transform="rotate(91 273.8 282.0)" fill="#999"/>
<ellipse cx="299.8" cy="268.1" rx="0.89" ry="0.61" transform="rotate(151 299.8 268.1)" fill="#999"/>
<ellipse cx="275.5" cy="232.6" rx="1.43" ry="1.01" transform="rotate(9 275.5 232.6)" fill="#999"/>
<ellipse cx="341.6" cy="234.5" rx="1.62" ry="1.10" transform="rotate(48 341.6 234.5)"/>
<ellipse cx="312.8" cy="225.0" rx="1.21" ry="0.91" transform="rotate(9 312.8 225.0)"/>
<ellipse cx="337.1" cy="274.8" rx="1.34" ry="0.94" transform="rotate(8 337.1 274.8)"/>
<ellipse cx="308.7" cy="292.1" rx="1.72" ry="1.18" transform="rotate(179 308.7 292.1)"/>
<ellipse cx="298.4" cy="236.2" rx="0.91" ry="0.88" transform="rotate(65 298.4 236.2)"/>
<ellipse cx="267.0" cy="279.2" rx="1.31" ry="1.08" transform="rotate(61 267.0 279.2)"/>
<ellipse cx="321.9" cy="269.9" rx="1.27" ry="1.08" transform="rotate(7 321.9 269.9)"/>
<ellipse cx="262.3" cy="288.4" rx="1.09" ry="0.67" transform="rotate(165 262.3 288.4)"/>
<ellipse cx="322.3" cy="262.6" rx="1.07" ry="0.61" transform="rotate(137 322.3 262.6)"/>
<ellipse cx="266.8" cy="302.0" rx="0.87" ry="0.57" transform="rotate(51 266.8 302.0)" fill="#999"/>
<ellipse cx="260.7" cy="241.4" rx="1.00" ry="0.58" transform="rotate(0 260.7 241.4)" fill="#999"/>
<ellipse cx="260.6" cy="292.7" rx="1.05" ry="0.79" transform="rotate(139 260.6 292.7)"/>
<ellipse cx="313.6" cy="234.4" rx="1.38" ry="0.93" transform="rotate(97 313.6 234.4)"/>
<ellipse cx="293.4" cy="239.5" rx="1.41" ry="0.96" transform="rotate(154 293.4 239.5)"/>
<ellipse cx="280.2" cy="279.5" rx="1.29" ry="0.89" transform="rotate(134 280.2 279.5)" fill="#999"/>
<ellipse cx="324.4" cy="268.1" rx="1.47" ry="0.86" transform="rotate(98 324.4 268.1)"/>
<ellipse cx="271.6" cy="299.0" rx="1.03" ry="0.72" transform="rotate(135 271.6 299.0)" fill="#999"/>
<ellipse cx="290.8" cy="293.5" rx="1.62" ry="1.17" transform="rotate(106 290.8 293.5)" fill="#999"/>
<ellipse cx="302.2" cy="306.0" rx="1.42" ry="1.05" transform="rotate(35 302.2 306.0)"/>
<ellipse cx="270.1" cy="284.2" rx="1.07" ry="0.75" transform="rotate(79 270.1 284.2)"/>
<ellipse cx="313.3" cy="223.3" rx="1.21" ry="0.93" transform="rotate(28 313.3 223.3)" fill="#999"/>
<ellipse cx="264.7" cy="303.5" rx="1.39" ry="0.96" transform="rotate(89 264.7 303.5)" fill="#999"/>
<ellipse cx="280.7" cy="237.8" rx="1.07" ry="0.78" transform="rotate(105 280.7 237.8)"/>
<ellipse cx="319.2" cy="300.7" rx="1.73" ry="1.15" transform="rotate(80 319.2 300.7)"/>
<ellipse cx="316.5" cy="236.1" rx="1.03" ry="0.61" transform="rotate(158 316.5 236.1)"/>
<ellipse cx="319.4" cy="251.9" rx="1.33" ry="0.95" transform="rotate(126 319.4 251.9)"/>
<ellipse cx="313.9" cy="235.5" rx="1.32" ry="0.91" transform="rotate(109 313.9 235.5)"/>
<ellipse cx="281.0" cy="231.3" rx="1.38" ry="1.04" transform="rotate(119 281.0 231.3)" fill="#999"/>
<ellipse cx="281.8" cy="244.6" rx="1.13" ry="0.92" transform="rotate(139 281.8 244.6)"/>
<ellipse cx="317.7" cy="251.2" rx="1.26" ry="0.80" transform="rotate(89 317.7 251.2)" fill="#999"/>
<ellipse cx="309.4" cy="266.2" rx="1.23" ry="1.12" transform="rotate(15 309.4 266.2)"/>
<ellipse cx="294.9" cy="277.0" rx="1.20" ry="0.79" transform="rotate(173 294.9 277.0)"/>
<ellipse cx="315.2" cy="277.1" rx="1.01" ry="0.80" transform="rotate(67 315.2 277.1)"/>
<ellipse cx="325.1" cy="252.0" rx="1.43" ry="1.12" transform="rotate(102 325.1 252.0)" fill="#999"/>
<ellipse cx="328.0" cy="255.2" rx="1.47" ry="0.88" transform="rotate(28 328.0 255.2)"/>
<ellipse cx="278.0" cy="234.8" rx="1.40" ry="0.85" transform="rotate(119 278.0 234.8)" fill="#999"/>
<ellipse cx="329.8" cy="235.1" rx="1.10" ry="0.65" transform="rotate(90 329.8 235.1)" fill="#999"/>
<ellipse cx="271.7" cy="264.1" rx="1.44" ry="0.83" transform="rotate(84 271.7 264.1)"/>
<ellipse cx="303.7" cy="279.6" rx="1.07" ry="0.81" transform="rotate(36 303.7 279.6)"/>
<ellipse cx="288.1" cy="225.3" rx="1.06" ry="0.84" transform="rotate(36 288.1 225.3)"/>
<ellipse cx="260.7" cy="235.5" rx="1.34" ry="1.02" transform="rotate(53 260.7 235.5)" fill="#999"/>
<ellipse cx="303.0" cy="225.2" rx="1.58" ry="0.96" transform="rotate(92 303.0 225.2)" fill="#999"/>
<ellipse cx="329.7" cy="263.9" rx="1.43" ry="0.83" transform="rotate(140 329.7 263.9)"/>
<ellipse cx="294.3" cy="250.9" rx="1.60" ry="1.27" transform="rotate(99 294.3 250.9)" fill="#999"/>
<ellipse cx="262.4" cy="300.2" rx="1.70" ry="0.96" transform="rotate(155 262.4 300.2)"/>
<ellipse cx="315.2" cy="301.2" rx="1.39" ry="0.80" transform="rotate(142 315.2 301.2)"/>
<ellipse cx="263.8" cy="258.5" rx="1.42" ry="0.97" transform="rotate(160 263.8 258.5)"/>
<ellipse cx="300.4" cy="268.8" rx="1.28" ry="1.03" transform="rotate(148 300.4 268.8)" fill="#999"/>
<ellipse cx="305.3" cy="289.6" rx="1.41" ry="0.82" transform="rotate(108 305.3 289.6)" fill="#999"/>
<ellipse cx="300.2" cy="242.0" rx="1.04" ry="0.69" transform="rotate(156 300.2 242.0)"/>
<ellipse cx="272.4" cy="266.0" rx="1.41" ry="0.95" transform="rotate(47 272.4 266.0)"/>
<ellipse cx="317.4" cy="252.1" rx="1.11" ry="0.61" transform="rotate(118 317.4 252.1)"/>
<ellipse cx="339.9" cy="263.7" rx="1.21" ry="0.97" transform="rotate(59 339.9 263.7)"/>
<ellipse cx="282.2" cy="228.0" rx="1.00" ry="0.71" transform="rotate(103 282.2 228.0)"/>
<ellipse cx="294.0" cy="298.3" rx="1.60" ry="1.20" transform="rotate(129 294.0 298.3)" fill="#999"/>
<ellipse cx="289.6" cy="262.7" rx="1.16" ry="0.96" transform="rotate(89 289.6 262.7)" fill="#999"/>
<ellipse cx="336.2" cy="295.5" rx="1.25" ry="0.85" transform="rotate(101 336.2 295.5)"/>
<ellipse cx="267.0" cy="277.7" rx="1.09" ry="0.95" transform="rotate(5 267.0 277.7)"/>
<ellipse cx="304.2" cy="268.2" rx="1.35" ry="1.04" transform="rotate(175 304.2 268.2)" fill="#999"/>
<ellipse cx="330.6" cy="245.0" rx="1.48" ry="0.94" transform="rotate(171 330.6 245.0)" fill="#999"/>
<ellipse cx="262.1" cy="241.2" rx="1.82" ry="1.15" transform="rotate(135 262.1 241.2)" fill="#999"/>
<ellipse cx="270.4" cy="280.0" rx="0.95" ry="0.59" transform="rotate(39 270.4 280.0)"/>
<ellipse cx="329.4" cy="270.6" rx="1.53" ry="1.14" transform="rotate(103 329.4 270.6)"/>
<ellipse cx="275.8" cy="272.6" rx="1.15" ry="0.77" transform="rotate(113 275.8 272.6)" fill="#999"/>
<ellipse cx="281.9" cy="299.9" rx="1.08" ry="0.94" transform="rotate(43 281.9 299.9)" fill="#999"/>
<ellipse cx="329.8" cy="254.4" rx="1.10" ry="0.85" transform="rotate(133 329.8 254.4)"/>
<ellipse cx="334.6" cy="258.5" rx="1.00" ry="0.68" transform="rotate(105 334.6 258.5)" fill="#999"/>
<ellipse cx="290.0" cy="224.1" rx="1.14" ry="0.81" transform="rotate(171 290.0 224.1)" fill="#999"/>
<ellipse cx="299.1" cy="232.9" rx="0.93" ry="0.67" transform="rotate(94 299.1 232.9)" fill="#999"/>
<ellipse cx="281.5" cy="253.2" rx="1.10" ry="0.86" transform="rotate(91 281.5 253.2)"/>
<ellipse cx="342.6" cy="292.0" rx="1.46" ry="1.09" transform="rotate(92 342.6 292.0)"/>
<ellipse cx="322.3" cy="259.5" rx="1.10" ry="0.91" transform="rotate(145 322.3 259.5)"/>
<ellipse cx="341.9" cy="290.6" rx="1.11" ry="0.80" transform="rotate(78 341.9 290.6)"/>
<ellipse cx="326.7" cy="259.1" rx="1.36" ry="0.81" transform="rotate(2 326.7 259.1)"/>
<ellipse cx="312.6" cy="252.9" rx="0.88" ry="0.59" transform="rotate(12 312.6 252.9)"/>
<ellipse cx="299.0" cy="280.7" rx="1.40" ry="1.12" transform="rotate(39 299.0 280.7)"/>
<ellipse cx="305.8" cy="257.1" rx="1.20" ry="0.63" transform="rotate(139 305.8 257.1)" fill="#999"/>
<ellipse cx="341.6" cy="230.1" rx="1.42" ry="1.15" transform="rotate(37 341.6 230.1)"/>
<ellipse cx="264.4" cy="305.3" rx="0.84" ry="0.62" transform="rotate(172 264.4 305.3)"/>
<ellipse cx="335.8" cy="244.0" rx="1.07" ry="0.88" transform="rotate(133 335.8 244.0)"/>
<ellipse cx="278.4" cy="306.1" rx="1.54" ry="0.98" transform="rotate(52 278.4 306.1)"/>
<ellipse cx="339.8" cy="302.2" rx="1.05" ry="0.76" transform="rotate(148 339.8 302.2)"/>
<ellipse cx="302.2" cy="229.9" rx="1.84" ry="0.91" transform="rotate(80 302.2 229.9)"/>
<ellipse cx="339.1" cy="264.4" rx="1.23" ry="1.02" transform="rotate(152 339.1 264.4)"/>
<ellipse cx="266.4" cy="303.9" rx="0.96" ry="0.68" transform="rotate(159 266.4 303.9)" fill="#999"/>
<ellipse cx="303.5" cy="279.6" rx="1.24" ry="1.09" transform="rotate(145 303.5 279.6)" fill="#999"/>
<ellipse cx="261.2" cy="236.8" rx="1.53" ry="1.16" transform="rotate(97 261.2 236.8)" fill="#999"/>
<ellipse cx="289.9" cy="225.8" rx="0.90" ry="0.72" transform="rotate(149 289.9 225.8)"/>
<ellipse cx="304.2" cy="230.3" rx="1.58" ry="1.10" transform="rotate(74 304.2 230.3)"/>
<ellipse cx="333.8" cy="250.4" rx="1.18" ry="0.77" transform="rotate(99 333.8 250.4)" fill="#999"/>
<ellipse cx="288.0" cy="225.4" rx="1.19" ry="0.80" transform="rotate(7 288.0 225.4)"/>
<ellipse cx="308.1" cy="256.7" rx="1.42" ry="0.75" transform="rotate(73 308.1 256.7)"/>
<ellipse cx="335.9" cy="306.5" rx="1.23" ry="0.94" transform="rotate(63 335.9 306.5)"/>
<ellipse cx="288.8" cy="225.6" rx="1.35" ry="0.90" transform="rotate(17 288.8 225.6)"/>
<ellipse cx="268.7" cy="305.9" rx="1.18" ry="0.80" transform="rotate(156 268.7 305.9)"/>
<ellipse cx="313.0" cy="288.3" rx="1.37" ry="0.89" transform="rotate(78 313.0 288.3)"/>
<ellipse cx="325.2" cy="234.7" rx="1.60" ry="1.31" transform="rotate(43 325.2 234.7)"/>
<ellipse cx="308.4" cy="270.4" rx="0.91" ry="0.59" transform="rotate(179 308.4 270.4)"/>
<ellipse cx="263.9" cy="290.0" rx="1.18" ry="1.01" transform="rotate(132 263.9 290.0)"/>
<ellipse cx="261.0" cy="258.1" rx="1.29" ry="1.04" transform="rotate(31 261.0 258.1)"/>
<ellipse cx="272.6" cy="258.2" rx="1.08" ry="0.66" transform="rotate(137 272.6 258.2)"/>
<ellipse cx="334.0" cy="241.5" rx="1.45" ry="0.76" transform="rotate(3 334.0 241.5)" fill="#999"/>
<ellipse cx="276.4" cy="281.4" rx="1.06" ry="0.82" transform="rotate(56 276.4 281.4)"/>
<ellipse cx="305.5" cy="253.3" rx="0.97" ry="0.66" transform="rotate(119 305.5 253.3)"/>
<ellipse cx="308.7" cy="292.1" rx="1.22" ry="0.88" transform="rotate(149 308.7 292.1)"/>
<ellipse cx="325.3" cy="233.2" rx="1.64" ry="1.09" transform="rotate(132 325.3 233.2)"/>
<ellipse cx="288.2" cy="290.8" rx="1.63" ry="1.00" transform="rotate(83 288.2 290.8)" fill="#999"/>
<ellipse cx="268.2" cy="282.9" rx="1.38" ry="1.04" transform="rotate(170 268.2 282.9)"/>
<ellipse cx="279.4" cy="246.0" rx="1.52" ry="1.06" transform="rotate(151 279.4 246.0)" fill="#999"/>
<ellipse cx="277.9" cy="285.5" rx="1.39" ry="1.09" transform="rotate(115 277.9 285.5)"/>
<ellipse cx="311.6" cy="258.1" rx="1.15" ry="0.84" transform="rotate(130 311.6 258.1)" fill="#999"/>
<ellipse cx="270.1" cy="230.4" rx="1.10" ry="0.88" transform="rotate(171 270.1 230.4)"/>
<ellipse cx="325.4" cy="259.1" rx="1.07" ry="0.64" transform="rotate(62 325.4 259.1)"/>
<ellipse cx="318.7" cy="249.1" rx="0.85" ry="0.75" transform="rotate(153 318.7 249.1)"/>
<ellipse cx="312.7" cy="254.4" rx="1.38" ry="1.07" transform="rotate(51 312.7 254.4)"/>
<ellipse cx="322.6" cy="235.9" rx="1.00" ry="0.73" transform="rotate(14 322.6 235.9)"/>
<ellipse cx="324.0" cy="251.4" rx="1.61" ry="1.17" transform="rotate(76 324.0 251.4)"/>
<ellipse cx="340.1" cy="232.8" rx="1.23" ry="1.09" transform="rotate(128 340.1 232.8)"/>
<ellipse cx="292.9" cy="258.5" rx="1.80" ry="1.12" transform="rotate(11 292.9 258.5)" fill="#999"/>
<ellipse cx="305.6" cy="228.9" rx="1.55" ry="1.16" transform="rotate(56 305.6 228.9)" fill="#999"/>
<ellipse cx="285.0" cy="251.0" rx="1.07" ry="0.54" transform="rotate(21 285.0 251.0)"/>
<ellipse cx="285.0" cy="293.5" rx="1.19" ry="0.65" transform="rotate(89 285.0 293.5)" fill="#999"/>
<ellipse cx="260.8" cy="251.6" rx="1.00" ry="0.65" transform="rotate(54 260.8 251.6)"/>
<ellipse cx="330.6" cy="227.5" rx="1.16" ry="0.84" transform="rotate(100 330.6 227.5)" fill="#999"/>
<ellipse cx="313.9" cy="257.4" rx="1.31" ry="0.85" transform="rotate(173 313.9 257.4)"/>
<ellipse cx="332.4" cy="246.1" rx="1.29" ry="0.73" transform="rotate(144 332.4 246.1)" fill="#999"/>
<ellipse cx="276.8" cy="283.2" rx="1.42" ry="0.92" transform="rotate(173 276.8 283.2)" fill="#999"/>
<ellipse cx="291.3" cy="239.9" rx="1.19" ry="0.79" transform="rotate(36 291.3 239.9)"/>
<ellipse cx="265.0" cy="284.1" rx="1.22" ry="0.96" transform="rotate(21 265.0 284.1)" fill="#999"/>
<ellipse cx="331.9" cy="284.3" rx="1.32" ry="1.08" transform="rotate(172 331.9 284.3)" fill="#999"/>
</g></g>
<text x="365.00" y="205.30" font-size="11" font-weight="normal" font-style="normal" text-anchor="start" stroke="#000" stroke-width="0.25">D</text>
<rect x="394.50" y="196.60" width="6.50" height="3.60" fill="#fff" stroke="#000" stroke-width="1"/>
<text x="404.20" y="201.50" font-size="9.3" font-weight="bold" font-style="normal" text-anchor="start"  stroke="#000" stroke-width="0.30">none</text>
<rect x="394.50" y="204.70" width="6.50" height="4.20" fill="#000" stroke="#000" stroke-width="1"/>
<text x="404.20" y="210.00" font-size="9.3" font-weight="bold" font-style="normal" text-anchor="start"  stroke="#000" stroke-width="0.30">ADP</text>
<line x1="400.65" y1="282.40" x2="400.65" y2="279.47" stroke="#000" stroke-width="1.2"/>
<line x1="397.95" y1="279.47" x2="403.35" y2="279.47" stroke="#000" stroke-width="1.2"/>
<rect x="395.60" y="283.00" width="10.10" height="20.30" fill="#fff" stroke="#000" stroke-width="1.2"/>
<line x1="413.85" y1="233.29" x2="413.85" y2="227.54" stroke="#000" stroke-width="1.2"/>
<line x1="411.15" y1="227.54" x2="416.55" y2="227.54" stroke="#000" stroke-width="1.2"/>
<rect x="409.20" y="233.89" width="9.30" height="69.41" fill="#000" stroke="#000" stroke-width="1.2"/>
<line x1="434.00" y1="282.40" x2="434.00" y2="275.82" stroke="#000" stroke-width="1.2"/>
<line x1="431.30" y1="275.82" x2="436.70" y2="275.82" stroke="#000" stroke-width="1.2"/>
<rect x="429.60" y="283.00" width="8.80" height="20.30" fill="#fff" stroke="#000" stroke-width="1.2"/>
<line x1="445.35" y1="254.19" x2="445.35" y2="248.96" stroke="#000" stroke-width="1.2"/>
<line x1="442.65" y1="248.96" x2="448.05" y2="248.96" stroke="#000" stroke-width="1.2"/>
<rect x="440.50" y="254.79" width="9.70" height="48.51" fill="#000" stroke="#000" stroke-width="1.2"/>
<line x1="465.35" y1="289.92" x2="465.35" y2="281.56" stroke="#000" stroke-width="1.2"/>
<line x1="462.65" y1="281.56" x2="468.05" y2="281.56" stroke="#000" stroke-width="1.2"/>
<rect x="460.70" y="290.52" width="9.30" height="12.78" fill="#fff" stroke="#000" stroke-width="1.2"/>
<line x1="477.75" y1="272.47" x2="477.75" y2="262.34" stroke="#000" stroke-width="1.2"/>
<line x1="475.05" y1="262.34" x2="480.45" y2="262.34" stroke="#000" stroke-width="1.2"/>
<rect x="472.90" y="273.07" width="9.70" height="30.23" fill="#000" stroke="#000" stroke-width="1.2"/>
<line x1="497.40" y1="296.40" x2="497.40" y2="285.54" stroke="#000" stroke-width="1.2"/>
<line x1="494.70" y1="285.54" x2="500.10" y2="285.54" stroke="#000" stroke-width="1.2"/>
<rect x="493.00" y="297.00" width="8.80" height="6.30" fill="#fff" stroke="#000" stroke-width="1.2"/>
<line x1="509.75" y1="290.45" x2="509.75" y2="285.85" stroke="#000" stroke-width="1.2"/>
<line x1="507.05" y1="285.85" x2="512.45" y2="285.85" stroke="#000" stroke-width="1.2"/>
<rect x="505.20" y="291.05" width="9.10" height="12.25" fill="#000" stroke="#000" stroke-width="1.2"/>
<line x1="390.20" y1="219.00" x2="390.20" y2="303.90" stroke="#000" stroke-width="1.3"/>
<line x1="389.60" y1="303.30" x2="520.00" y2="303.30" stroke="#000" stroke-width="1.3"/>
<line x1="387.40" y1="303.30" x2="390.20" y2="303.30" stroke="#000" stroke-width="1.2"/>
<text x="387.20" y="306.40" font-size="8.4" font-weight="bold" font-style="normal" text-anchor="end"  stroke="#000" stroke-width="0.30">6</text>
<line x1="387.40" y1="282.40" x2="390.20" y2="282.40" stroke="#000" stroke-width="1.2"/>
<text x="387.20" y="285.50" font-size="8.4" font-weight="bold" font-style="normal" text-anchor="end"  stroke="#000" stroke-width="0.30">8</text>
<line x1="387.40" y1="261.50" x2="390.20" y2="261.50" stroke="#000" stroke-width="1.2"/>
<text x="387.20" y="264.60" font-size="8.4" font-weight="bold" font-style="normal" text-anchor="end"  stroke="#000" stroke-width="0.30">10</text>
<line x1="387.40" y1="240.60" x2="390.20" y2="240.60" stroke="#000" stroke-width="1.2"/>
<text x="387.20" y="243.70" font-size="8.4" font-weight="bold" font-style="normal" text-anchor="end"  stroke="#000" stroke-width="0.30">12</text>
<line x1="387.40" y1="219.70" x2="390.20" y2="219.70" stroke="#000" stroke-width="1.2"/>
<text x="387.20" y="222.80" font-size="8.4" font-weight="bold" font-style="normal" text-anchor="end"  stroke="#000" stroke-width="0.30">14</text>
<text x="407.30" y="314.00" font-size="8.2" font-weight="bold" font-style="normal" text-anchor="middle"  stroke="#000" stroke-width="0.30">WT/fl</text>
<text x="438.90" y="314.00" font-size="8.2" font-weight="bold" font-style="normal" text-anchor="middle"  stroke="#000" stroke-width="0.30">WA/fl</text>
<text x="471.80" y="314.00" font-size="8.2" font-weight="bold" font-style="normal" text-anchor="middle"  stroke="#000" stroke-width="0.30">LR/fl</text>
<text x="503.40" y="314.00" font-size="8.2" font-weight="bold" font-style="normal" text-anchor="middle"  stroke="#000" stroke-width="0.30">fl/fl</text>
<text transform="translate(373.6,259.2) rotate(-90)" font-size="9.75" font-weight="bold" stroke="#000" stroke-width="0.3" text-anchor="middle">Platelet Area (μm<tspan font-size="6.5" dy="-3.5">2</tspan><tspan dy="3.5">)</tspan></text>
<line x1="399.40" y1="224.50" x2="414.60" y2="224.50" stroke="#000" stroke-width="0.85"/>
<text x="407.70" y="224.72" font-size="9.3" font-weight="bold" font-style="normal" text-anchor="middle" stroke="#000" stroke-width="0.2">***</text>
<line x1="417.00" y1="215.50" x2="446.60" y2="215.50" stroke="#000" stroke-width="0.85"/>
<line x1="446.50" y1="215.50" x2="446.50" y2="243.00" stroke="#000" stroke-width="0.85"/>
<text x="444.60" y="216.12" font-size="9.3" font-weight="bold" font-style="normal" text-anchor="middle" stroke="#000" stroke-width="0.2">*</text>
<line x1="417.00" y1="217.50" x2="478.50" y2="217.50" stroke="#000" stroke-width="0.85"/>
<line x1="478.50" y1="217.40" x2="478.50" y2="251.00" stroke="#000" stroke-width="0.85"/>
<text x="476.20" y="217.72" font-size="9.3" font-weight="bold" font-style="normal" text-anchor="middle" stroke="#000" stroke-width="0.2">*</text>
<line x1="417.00" y1="219.50" x2="510.60" y2="219.50" stroke="#000" stroke-width="0.85"/>
<line x1="510.50" y1="219.30" x2="510.50" y2="276.50" stroke="#000" stroke-width="0.85"/>
<text x="504.60" y="219.92" font-size="9.3" font-weight="bold" font-style="normal" text-anchor="middle" stroke="#000" stroke-width="0.2">***</text>
<line x1="430.20" y1="246.50" x2="446.00" y2="246.50" stroke="#000" stroke-width="0.85"/>
<text x="439.00" y="245.92" font-size="9.3" font-weight="bold" font-style="normal" text-anchor="middle" stroke="#000" stroke-width="0.2">*</text>
<line x1="463.00" y1="259.50" x2="479.60" y2="259.50" stroke="#000" stroke-width="0.85"/>
<text x="472.40" y="257.79" font-size="7" font-weight="bold" font-style="italic" text-anchor="middle"  stroke="#000" stroke-width="0.30">ns</text>
<line x1="495.70" y1="281.50" x2="511.40" y2="281.50" stroke="#000" stroke-width="0.85"/>
<text x="503.20" y="278.39" font-size="7" font-weight="bold" font-style="italic" text-anchor="middle"  stroke="#000" stroke-width="0.30">ns</text>
</svg>
</body></html>
